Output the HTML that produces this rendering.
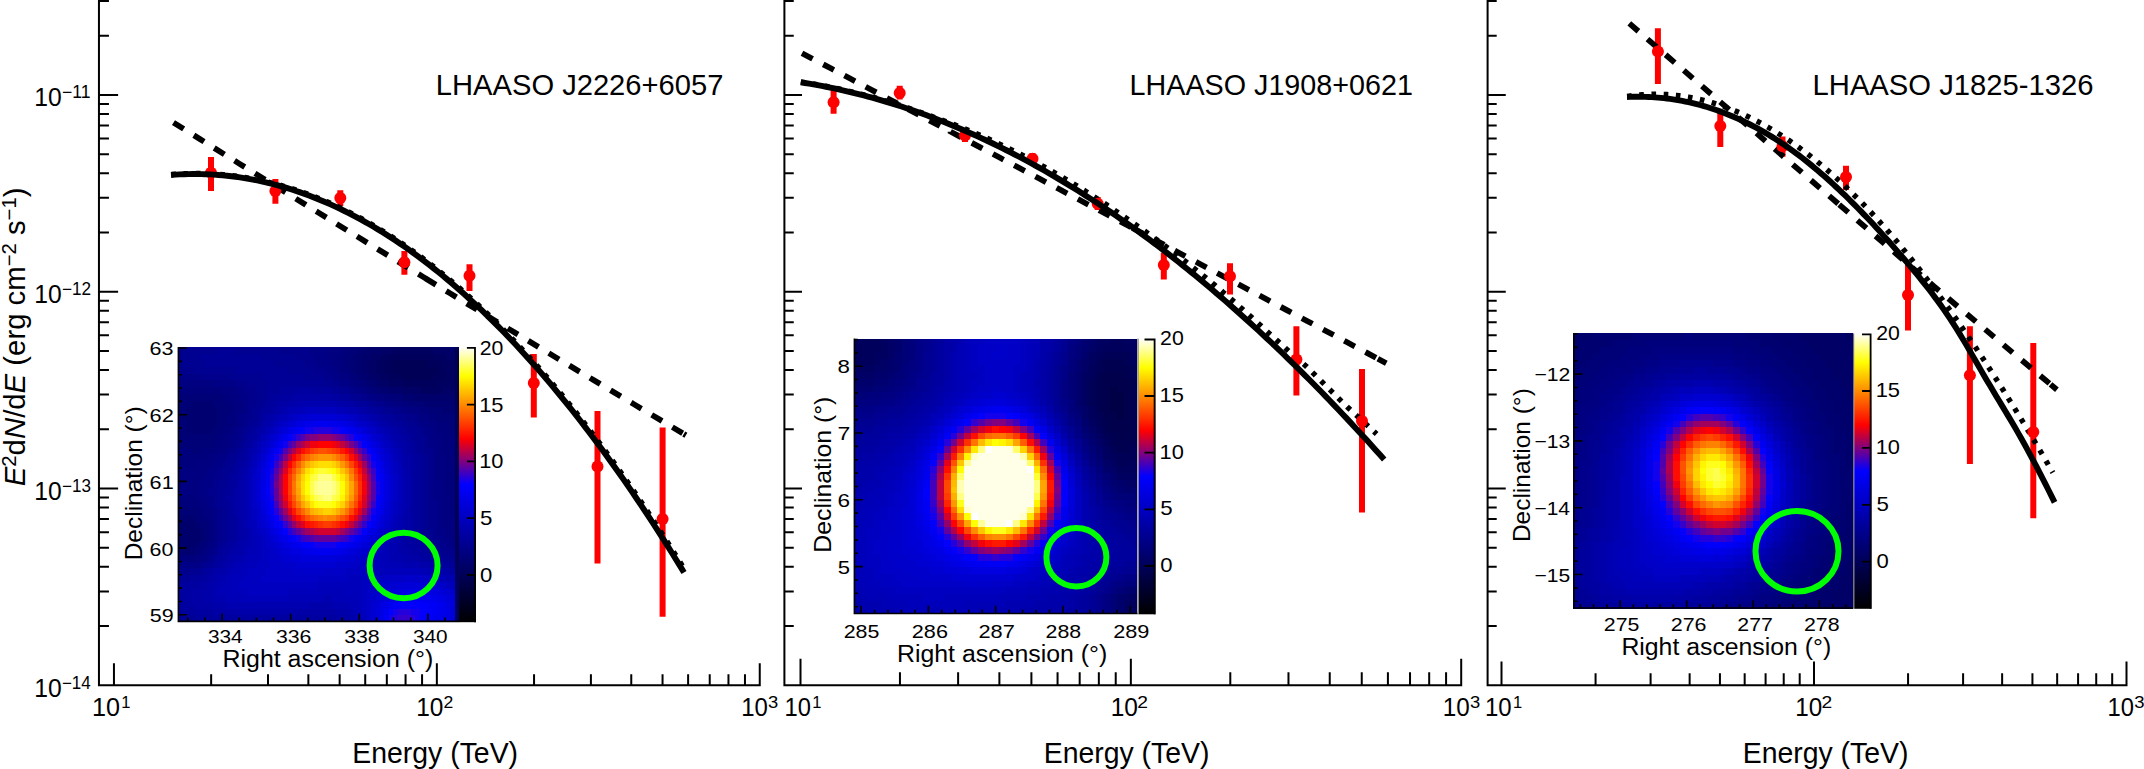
<!DOCTYPE html>
<html><head><meta charset="utf-8"><title>LHAASO spectra</title>
<style>html,body{margin:0;padding:0;background:#fff}svg{display:block}text{font-family:"Liberation Sans", sans-serif;fill:#000}</style>
</head><body>
<svg width="2144" height="769" viewBox="0 0 2144 769">
<defs><linearGradient id="cb" x1="0" y1="1" x2="0" y2="0"><stop offset="0.000" stop-color="#000000"/><stop offset="0.500" stop-color="#0000ff"/><stop offset="0.667" stop-color="#ff0000"/><stop offset="0.895" stop-color="#ffff00"/><stop offset="1.000" stop-color="#ffffff"/></linearGradient></defs>
<rect width="2144" height="769" fill="#fff"/>
<path d="M98.95 0V686.25M97.95 685.25H760.75M113.95 685.25v-22M211.15 685.25v-11M268.01 685.25v-11M308.36 685.25v-11M339.65 685.25v-11M365.22 685.25v-11M386.83 685.25v-11M405.56 685.25v-11M422.07 685.25v-11M436.85 685.25v-22M534.05 685.25v-11M590.91 685.25v-11M631.26 685.25v-11M662.55 685.25v-11M688.12 685.25v-11M709.73 685.25v-11M728.46 685.25v-11M744.97 685.25v-11M759.75 685.25v-22M98.95 626.06h10M98.95 591.4h10M98.95 566.81h10M98.95 547.74h10M98.95 532.16h10M98.95 518.98h10M98.95 507.57h10M98.95 497.51h10M98.95 488.5h19.15M98.95 429.26h10M98.95 394.6h10M98.95 370.01h10M98.95 350.94h10M98.95 335.36h10M98.95 322.18h10M98.95 310.77h10M98.95 300.71h10M98.95 291.7h19.15M98.95 232.46h10M98.95 197.8h10M98.95 173.21h10M98.95 154.14h10M98.95 138.56h10M98.95 125.38h10M98.95 113.97h10M98.95 103.91h10M98.95 94.9h19.15M98.95 35.66h10M98.95 1h10" fill="none" stroke="#000" stroke-width="2"/>
<path d="M784.4 0V686.25M783.4 685.25H1462.2M800.5 685.25v-26.5M899.95 685.25v-12.9M958.12 685.25v-12.9M999.39 685.25v-12.9M1031.4 685.25v-12.9M1057.56 685.25v-12.9M1079.68 685.25v-12.9M1098.84 685.25v-12.9M1115.73 685.25v-12.9M1130.85 685.25v-26.5M1230.3 685.25v-12.9M1288.47 685.25v-12.9M1329.74 685.25v-12.9M1361.75 685.25v-12.9M1387.91 685.25v-12.9M1410.03 685.25v-12.9M1429.19 685.25v-12.9M1446.08 685.25v-12.9M1461.2 685.25v-26.5M784.4 626.06h9.35M784.4 591.4h9.35M784.4 566.81h9.35M784.4 547.74h9.35M784.4 532.16h9.35M784.4 518.98h9.35M784.4 507.57h9.35M784.4 497.51h9.35M784.4 488.5h17.6M784.4 429.26h9.35M784.4 394.6h9.35M784.4 370.01h9.35M784.4 350.94h9.35M784.4 335.36h9.35M784.4 322.18h9.35M784.4 310.77h9.35M784.4 300.71h9.35M784.4 291.7h17.6M784.4 232.46h9.35M784.4 197.8h9.35M784.4 173.21h9.35M784.4 154.14h9.35M784.4 138.56h9.35M784.4 125.38h9.35M784.4 113.97h9.35M784.4 103.91h9.35M784.4 94.9h17.6M784.4 35.66h9.35M784.4 1h9.35" fill="none" stroke="#000" stroke-width="2"/>
<path d="M1487.6 0V686.25M1486.6 685.25H2127.5M1501.5 685.25v-23.7M1595.57 685.25v-12M1650.6 685.25v-12M1689.64 685.25v-12M1719.93 685.25v-12M1744.67 685.25v-12M1765.59 685.25v-12M1783.72 685.25v-12M1799.7 685.25v-12M1814 685.25v-23.7M1908.07 685.25v-12M1963.1 685.25v-12M2002.14 685.25v-12M2032.43 685.25v-12M2057.17 685.25v-12M2078.09 685.25v-12M2096.22 685.25v-12M2112.2 685.25v-12M2126.5 685.25v-23.7M1487.6 626.06h9.1M1487.6 591.4h9.1M1487.6 566.81h9.1M1487.6 547.74h9.1M1487.6 532.16h9.1M1487.6 518.98h9.1M1487.6 507.57h9.1M1487.6 497.51h9.1M1487.6 488.5h18.15M1487.6 429.26h9.1M1487.6 394.6h9.1M1487.6 370.01h9.1M1487.6 350.94h9.1M1487.6 335.36h9.1M1487.6 322.18h9.1M1487.6 310.77h9.1M1487.6 300.71h9.1M1487.6 291.7h18.15M1487.6 232.46h9.1M1487.6 197.8h9.1M1487.6 173.21h9.1M1487.6 154.14h9.1M1487.6 138.56h9.1M1487.6 125.38h9.1M1487.6 113.97h9.1M1487.6 103.91h9.1M1487.6 94.9h18.15M1487.6 35.66h9.1M1487.6 1h9.1" fill="none" stroke="#000" stroke-width="2"/>
<text x="34.35" y="106.1" font-size="25" textLength="27.47" lengthAdjust="spacingAndGlyphs">10</text>
<text x="61.92" y="98.1" font-size="17.5" textLength="28.51" lengthAdjust="spacingAndGlyphs">−11</text>
<text x="34.35" y="302.9" font-size="25" textLength="27.47" lengthAdjust="spacingAndGlyphs">10</text>
<text x="61.94" y="294.9" font-size="17.5" textLength="29.14" lengthAdjust="spacingAndGlyphs">−12</text>
<text x="34.35" y="499.7" font-size="25" textLength="27.47" lengthAdjust="spacingAndGlyphs">10</text>
<text x="61.95" y="491.7" font-size="17.5" textLength="28.96" lengthAdjust="spacingAndGlyphs">−13</text>
<text x="34.35" y="696.5" font-size="25" textLength="27.47" lengthAdjust="spacingAndGlyphs">10</text>
<text x="61.95" y="688.5" font-size="17.5" textLength="28.78" lengthAdjust="spacingAndGlyphs">−14</text>
<text x="91.91" y="715.9" font-size="25" textLength="28.03" lengthAdjust="spacingAndGlyphs">10</text>
<text x="121.16" y="708" font-size="16.5" text-anchor="start">1</text>
<text x="416.16" y="715.9" font-size="25" textLength="27.25" lengthAdjust="spacingAndGlyphs">10</text>
<text x="443.62" y="708" font-size="16.5" textLength="9.78" lengthAdjust="spacingAndGlyphs">2</text>
<text x="741.2" y="715.9" font-size="25" textLength="26.7" lengthAdjust="spacingAndGlyphs">10</text>
<text x="768.01" y="708" font-size="16.5" textLength="10.25" lengthAdjust="spacingAndGlyphs">3</text>
<text x="784.47" y="715.9" font-size="25" textLength="26.42" lengthAdjust="spacingAndGlyphs">10</text>
<text x="812.21" y="708" font-size="16.5" text-anchor="start">1</text>
<text x="1110.66" y="715.9" font-size="25" textLength="27.25" lengthAdjust="spacingAndGlyphs">10</text>
<text x="1137.29" y="708" font-size="16.5" textLength="10.7" lengthAdjust="spacingAndGlyphs">2</text>
<text x="1442.68" y="715.9" font-size="25" textLength="26.97" lengthAdjust="spacingAndGlyphs">10</text>
<text x="1470.01" y="708" font-size="16.5" textLength="10.25" lengthAdjust="spacingAndGlyphs">3</text>
<text x="1484.95" y="715.9" font-size="25" textLength="26.7" lengthAdjust="spacingAndGlyphs">10</text>
<text x="1512.96" y="708" font-size="16.5" text-anchor="start">1</text>
<text x="1795.18" y="715.9" font-size="25" textLength="26.97" lengthAdjust="spacingAndGlyphs">10</text>
<text x="1821.54" y="708" font-size="16.5" textLength="10.7" lengthAdjust="spacingAndGlyphs">2</text>
<text x="2107.47" y="715.9" font-size="25" textLength="26.42" lengthAdjust="spacingAndGlyphs">10</text>
<text x="2134.26" y="708" font-size="16.5" textLength="10.3" lengthAdjust="spacingAndGlyphs">3</text>
<text x="352.33" y="762.5" font-size="28.7" textLength="165.7" lengthAdjust="spacingAndGlyphs">Energy (TeV)</text>
<text x="1043.73" y="762.5" font-size="28.7" textLength="165.7" lengthAdjust="spacingAndGlyphs">Energy (TeV)</text>
<text x="1742.73" y="762.5" font-size="28.7" textLength="165.7" lengthAdjust="spacingAndGlyphs">Energy (TeV)</text>
<text transform="translate(25.3 486.2) rotate(-90) scale(1.012 1)" font-size="29" text-anchor="start"><tspan font-style="italic">E</tspan><tspan font-size="20" dy="-9">2</tspan><tspan dy="9">d</tspan><tspan font-style="italic">N</tspan>/d<tspan font-style="italic">E</tspan> (erg cm<tspan font-size="20" dy="-9">−2</tspan><tspan dy="9"> s</tspan><tspan font-size="20" dy="-9">−1</tspan><tspan dy="9">)</tspan></text>
<text x="435.87" y="94.5" font-size="28.8" textLength="287.49" lengthAdjust="spacingAndGlyphs">LHAASO J2226+6057</text>
<text x="1129.6" y="94.5" font-size="28.8" textLength="283.29" lengthAdjust="spacingAndGlyphs">LHAASO J1908+0621</text>
<text x="1812.56" y="94.5" font-size="28.8" textLength="280.88" lengthAdjust="spacingAndGlyphs">LHAASO J1825-1326</text>
<path d="M211 157.1V190.9M275.4 179.1V203.8M340.3 190.2V206M404.4 251V274.7M469.5 264.2V290.9M533.8 354V417.6M597.5 411V563.5M662.6 427.4V616.7M833.6 90V113.7M899.7 85.8V99.6M965 129V141.9M1032.5 153V164.5M1097.7 197V210M1163.8 252.8V279.6M1230 263.3V294.5M1296.4 326.3V395.6M1362 369V512.5M1657.9 28.3V83.9M1720.3 110.5V146.9M1782.5 136.5V156.7M1846 165.8V190.1M1908 264.4V330.4M1969.9 326.3V463.9M2033.3 343V518.3" stroke="#f00" stroke-width="6" fill="none"/>
<path d="M171.5 174.45L175.82 174.14L180.14 173.89L184.46 173.7L188.78 173.58L193.1 173.51L197.42 173.51L201.74 173.56L206.06 173.68L210.38 173.86L214.7 174.1L219.02 174.4L223.34 174.76L227.66 175.18L231.98 175.66L236.3 176.21L240.62 176.81L244.94 177.48L249.26 178.21L253.58 179L257.9 179.85L262.22 180.76L266.54 181.73L270.86 182.76L275.18 183.86L279.5 185.02L283.82 186.23L288.14 187.51L292.46 188.86L296.78 190.26L301.11 191.72L305.43 193.25L309.75 194.84L314.07 196.48L318.39 198.19L322.71 199.97L327.03 201.8L331.35 203.69L335.67 205.65L339.99 207.67L344.31 209.75L348.63 211.89L352.95 214.1L357.27 216.36L361.59 218.69L365.91 221.08L370.23 223.53L374.55 226.04L378.87 228.62L383.19 231.25L387.51 233.95L391.83 236.71L396.15 239.54L400.47 242.42L404.79 245.37L409.11 248.38L413.43 251.45L417.75 254.58L422.07 257.78L426.39 261.04L430.71 264.36L435.03 267.74L439.35 271.18L443.67 274.69L447.99 278.26L452.31 281.89L456.63 285.59L460.95 289.34L465.27 293.16L469.59 297.04L473.91 300.98L478.23 304.99L482.55 309.06L486.87 313.19L491.19 317.38L495.51 321.64L499.83 325.96L504.15 330.34L508.47 334.79L512.79 339.29L517.11 343.86L521.43 348.49L525.75 353.19L530.07 357.95L534.39 362.77L538.71 367.65L543.03 372.6L547.35 377.61L551.67 382.68L555.99 387.81L560.32 393.01L564.64 398.27L568.96 403.6L573.28 408.99L577.6 414.44L581.92 419.95L586.24 425.53L590.56 431.16L594.88 436.87L599.2 442.63L603.52 448.46L607.84 454.35L612.16 460.31L616.48 466.33L620.8 472.41L625.12 478.56L629.44 484.77L633.76 491.04L638.08 497.37L642.4 503.77L646.72 510.23L651.04 516.76L655.36 523.35L659.68 530L664 536.72L668.32 543.5L672.64 550.34L676.96 557.25L681.28 564.22L685.6 571.26" fill="none" stroke="#000" stroke-width="5.4" stroke-dasharray="4.6 7.6"/>
<path d="M800.8 81.95L804.94 82.59L809.08 83.25L813.23 83.95L817.37 84.68L821.51 85.43L825.65 86.22L829.8 87.03L833.94 87.88L838.08 88.76L842.22 89.66L846.37 90.59L850.51 91.56L854.65 92.55L858.79 93.57L862.94 94.63L867.08 95.71L871.22 96.82L875.36 97.96L879.51 99.13L883.65 100.33L887.79 101.56L891.93 102.82L896.08 104.11L900.22 105.43L904.36 106.77L908.5 108.15L912.65 109.56L916.79 110.99L920.93 112.46L925.07 113.95L929.22 115.47L933.36 116.94L937.5 118.41L941.64 119.91L945.79 121.43L949.93 122.99L954.07 124.58L958.21 126.2L962.36 127.84L966.5 129.52L970.64 131.22L974.78 132.95L978.93 134.71L983.07 136.5L987.21 138.32L991.35 140.19L995.49 142.11L999.64 144.07L1003.78 146.05L1007.92 148.06L1012.06 150.1L1016.21 152.17L1020.35 154.27L1024.49 156.4L1028.63 158.55L1032.78 160.74L1036.92 162.95L1041.06 165.2L1045.2 167.47L1049.35 169.77L1053.49 172.1L1057.63 174.46L1061.77 176.84L1065.92 179.26L1070.06 181.7L1074.2 184.22L1078.34 186.76L1082.49 189.33L1086.63 191.93L1090.77 194.56L1094.91 197.21L1099.06 199.9L1103.2 202.61L1107.34 205.35L1111.48 208.12L1115.63 210.92L1119.77 213.75L1123.91 216.61L1128.05 219.45L1132.2 222.3L1136.34 225.18L1140.48 228.1L1144.62 231.03L1148.77 234L1152.91 237L1157.05 240.02L1161.19 243.07L1165.34 246.16L1169.48 249.27L1173.62 252.4L1177.76 255.57L1181.91 258.76L1186.05 261.99L1190.19 265.24L1194.33 268.52L1198.47 271.82L1202.62 275.16L1206.76 278.52L1210.9 281.93L1215.04 285.4L1219.19 288.91L1223.33 292.44L1227.47 296L1231.61 299.59L1235.76 303.21L1239.9 306.85L1244.04 310.52L1248.18 314.22L1252.33 317.95L1256.47 321.71L1260.61 325.49L1264.75 329.31L1268.9 333.15L1273.04 336.9L1277.18 340.63L1281.32 344.38L1285.47 348.17L1289.61 351.99L1293.75 355.52L1297.89 359.06L1302.04 362.62L1306.18 366.23L1310.32 370.3L1314.46 374.39L1318.61 378.52L1322.75 382.67L1326.89 386.78L1331.03 390.88L1335.18 395.02L1339.32 399.18L1343.46 403.23L1347.6 407.23L1351.75 411.13L1355.89 414.87L1360.03 418.65L1364.17 422.46L1368.32 426.29L1372.46 430.15L1376.6 434.03" fill="none" stroke="#000" stroke-width="5.4" stroke-dasharray="4.6 7.6"/>
<path d="M1627.2 96.43L1630.26 95.98L1633.33 95.58L1636.39 95.23L1639.45 94.94L1642.51 94.69L1645.58 94.5L1648.64 94.35L1651.7 94.26L1654.76 94.22L1657.83 94.23L1660.89 94.29L1663.95 94.4L1667.01 94.56L1670.08 94.76L1673.14 95.02L1676.2 95.33L1679.26 95.69L1682.33 96.1L1685.39 96.56L1688.45 97.07L1691.51 97.63L1694.58 98.23L1697.64 98.89L1700.7 99.59L1703.76 100.34L1706.83 101.15L1709.89 102L1712.95 102.9L1716.02 103.84L1719.08 104.84L1722.14 105.88L1725.2 106.97L1728.27 108.11L1731.33 109.3L1734.39 110.54L1737.45 111.82L1740.52 113.15L1743.58 114.53L1746.64 115.95L1749.7 117.42L1752.77 118.94L1755.83 120.51L1758.89 122.12L1761.95 123.78L1765.02 125.49L1768.08 127.24L1771.14 129.04L1774.2 130.88L1777.27 132.77L1780.33 134.71L1783.39 136.69L1786.45 138.72L1789.52 140.8L1792.58 142.92L1795.64 145.08L1798.71 147.29L1801.77 149.55L1804.83 151.85L1807.89 154.19L1810.96 156.59L1814.02 159.02L1817.08 161.5L1820.14 164.03L1823.21 166.6L1826.27 169.21L1829.33 171.87L1832.39 174.57L1835.46 177.31L1838.52 180.1L1841.58 182.94L1844.64 185.81L1847.71 188.74L1850.77 191.7L1853.83 194.71L1856.89 197.76L1859.96 200.85L1863.02 203.99L1866.08 207.17L1869.14 210.39L1872.21 213.65L1875.27 216.96L1878.33 220.31L1881.39 223.7L1884.46 227.13L1887.52 230.61L1890.58 234.13L1893.65 237.69L1896.71 241.29L1899.77 244.93L1902.83 248.62L1905.9 252.34L1908.96 256.11L1912.02 259.91L1915.08 263.76L1918.15 267.65L1921.21 271.57L1924.27 275.54L1927.33 279.54L1930.4 283.58L1933.46 287.66L1936.52 291.78L1939.58 295.94L1942.65 300.13L1945.71 304.36L1948.77 308.62L1951.83 312.92L1954.9 317.26L1957.96 321.63L1961.02 326.04L1964.08 330.48L1967.15 334.95L1970.21 339.46L1973.27 344L1976.34 348.58L1979.4 353.19L1982.46 357.83L1985.52 362.5L1988.59 367.2L1991.65 371.94L1994.71 376.71L1997.77 381.5L2000.84 386.33L2003.9 391.19L2006.96 396.08L2010.02 400.99L2013.09 405.94L2016.15 410.91L2019.21 415.91L2022.27 420.94L2025.34 426L2028.4 431.09L2031.46 436.2L2034.52 441.34L2037.59 446.5L2040.65 451.69L2043.71 456.91L2046.77 462.15L2049.84 467.41L2052.9 472.7" fill="none" stroke="#000" stroke-width="5.4" stroke-dasharray="4.6 7.6"/>
<path d="M173.5 122.55L183.67 128.91M193.85 135.28L199.78 138.98L204.03 141.63M214.21 147.99L224.39 154.33M234.58 160.68L239.19 163.55L244.77 167.01M254.96 173.35L265.15 179.68M275.35 186L278.61 188.02L285.55 192.32M295.76 198.64L304.88 204.28L305.96 204.95M316.17 211.25L318.02 212.4L326.39 217.55M336.6 223.85L344.3 228.59L346.82 230.14M357.04 236.43L357.44 236.67L367.27 242.71M377.49 248.99L383.72 252.8L387.72 255.26M397.96 261.53L408.19 267.79M418.43 274.05L423.13 276.92L428.67 280.3M425.69 278.48L435.93 284.73M446.18 290.97L449.41 292.94L456.43 297.21M466.68 303.45L475.68 308.92L476.93 309.68M487.19 315.91L488.82 316.89L497.45 322.13M507.72 328.34L515.1 332.81L517.99 334.55M528.26 340.76L538.53 346.96M548.81 353.16L554.52 356.6L559.08 359.35M569.37 365.54L579.65 371.72M589.94 377.9L593.93 380.3L600.23 384.07M610.52 390.24L620.21 396.04L620.82 396.4M631.12 402.56L633.35 403.89L641.42 408.71M651.73 414.86L659.62 419.57L662.03 421.01M672.34 427.15L672.76 427.39L682.66 433.28M683.78 433.94L685.9 435.21M802 53.17L811.9 58.4L812.61 58.77M823.23 64.37L831.71 68.85L833.84 69.97M844.45 75.58L851.52 79.31L855.06 81.18M865.67 86.78L871.32 89.77L876.28 92.39M886.89 97.99L891.13 100.23L897.5 103.6M908.11 109.21L910.94 110.7L918.72 114.82M929.33 120.42L930.74 121.17L939.94 126.03M950.55 131.64L950.55 131.65L960.45 136.89L961.15 137.26M971.76 142.87L980.26 147.37L982.37 148.48M992.97 154.1L1000.07 157.85L1003.58 159.71M1014.18 165.33L1019.87 168.34L1024.79 170.94M1035.39 176.56L1039.68 178.83L1045.99 182.18M1056.6 187.8L1059.49 189.33L1067.2 193.42M1077.8 199.04L1079.29 199.83L1088.4 204.66M1099 210.29L1099.1 210.34L1109.01 215.59L1109.6 215.91M1120.2 221.54L1128.81 226.1L1130.8 227.16M1132.39 228.01L1138.72 231.36L1142.99 233.63M1153.59 239.26L1158.52 241.88L1164.19 244.89M1174.78 250.52L1178.33 252.41L1185.38 256.15M1195.98 261.79L1198.14 262.93L1206.57 267.42M1217.17 273.05L1217.94 273.47L1227.76 278.69M1238.36 284.33L1247.65 289.28L1248.95 289.96M1259.54 295.6L1267.46 299.82L1270.13 301.24M1280.72 306.89L1287.27 310.37L1291.31 312.53M1301.91 318.17L1307.07 320.93L1312.49 323.82M1323.08 329.46L1326.88 331.49L1333.67 335.11M1344.26 340.76L1346.69 342.05L1354.85 346.4M1365.43 352.06L1366.49 352.62L1376.02 357.71M1377.83 358.67L1386.3 363.2M1629.3 23.4L1638.38 31.24M1647.47 39.09L1656.55 46.93M1665.63 54.77L1674.71 62.61M1683.8 70.46L1692.88 78.3M1701.96 86.14L1711.04 93.98M1720.13 101.83L1729.21 109.67M1738.29 117.51L1747.37 125.35M1756.46 133.2L1760.4 136.6L1765.54 141.04M1774.62 148.88L1783.71 156.72M1792.79 164.56L1801.88 172.4M1810.96 180.24L1820.05 188.08M1829.13 195.92L1838.21 203.76M1839.2 204.61L1848.28 212.45M1857.37 220.3L1866.45 228.14M1875.53 235.98L1884.62 243.82M1893.7 251.66L1902.79 259.5M1911.87 267.34L1920.95 275.18M1930.04 283.02L1934.3 286.7L1939.18 290.8M1948.36 298.52L1957.54 306.25M1966.73 313.97L1975.91 321.69M1985.1 329.42L1994.28 337.14M2003.46 344.87L2008.5 349.1L2012.65 352.58M2021.85 360.3L2031.04 368.01M2040.23 375.72L2049.43 383.43M2050.54 384.37L2056.9 389.7" fill="none" stroke="#000" stroke-width="5.7"/>
<circle cx="211" cy="172.7" r="6" fill="#f00"/>
<circle cx="275.4" cy="190.9" r="6" fill="#f00"/>
<circle cx="340.3" cy="198" r="6" fill="#f00"/>
<circle cx="404.4" cy="262.2" r="6" fill="#f00"/>
<circle cx="469.5" cy="275.7" r="6" fill="#f00"/>
<circle cx="533.8" cy="383" r="6" fill="#f00"/>
<circle cx="597.5" cy="466.5" r="6" fill="#f00"/>
<circle cx="662.6" cy="518.9" r="6" fill="#f00"/>
<circle cx="833.6" cy="102.3" r="6" fill="#f00"/>
<circle cx="899.7" cy="92.9" r="6" fill="#f00"/>
<circle cx="965" cy="135.6" r="6" fill="#f00"/>
<circle cx="1032.5" cy="158.8" r="6" fill="#f00"/>
<circle cx="1097.7" cy="203.7" r="6" fill="#f00"/>
<circle cx="1163.8" cy="265.1" r="6" fill="#f00"/>
<circle cx="1230" cy="276.3" r="6" fill="#f00"/>
<circle cx="1296.4" cy="359.5" r="6" fill="#f00"/>
<circle cx="1362" cy="421" r="6" fill="#f00"/>
<circle cx="1657.9" cy="51.4" r="6" fill="#f00"/>
<circle cx="1720.3" cy="126.1" r="6" fill="#f00"/>
<circle cx="1782.5" cy="146.3" r="6" fill="#f00"/>
<circle cx="1846" cy="177.1" r="6" fill="#f00"/>
<circle cx="1908" cy="295" r="6" fill="#f00"/>
<circle cx="1969.9" cy="375.3" r="6" fill="#f00"/>
<circle cx="2033.3" cy="431.9" r="6" fill="#f00"/>
<path d="M171 174.95L175.31 174.64L179.62 174.4L183.93 174.22L188.24 174.1L192.55 174.04L196.87 174.04L201.18 174.1L205.49 174.23L209.8 174.41L214.11 174.65L218.42 174.96L222.73 175.33L227.04 175.76L231.35 176.24L235.66 176.79L239.97 177.41L244.29 178.08L248.6 178.81L252.91 179.61L257.22 180.46L261.53 181.38L265.84 182.36L270.15 183.4L274.46 184.5L278.77 185.66L283.08 186.89L287.39 188.17L291.71 189.52L296.02 190.93L300.33 192.4L304.64 193.93L308.95 195.52L313.26 197.18L317.57 198.89L321.88 200.67L326.19 202.51L330.5 204.41L334.82 206.37L339.13 208.4L343.44 210.49L347.75 212.63L352.06 214.84L356.37 217.11L360.68 219.45L364.99 221.84L369.3 224.3L373.61 226.82L377.92 229.4L382.24 232.04L386.55 234.75L390.86 237.51L395.17 240.34L399.48 243.23L403.79 246.19L408.1 249.2L412.41 252.28L416.72 255.42L421.03 258.62L425.34 261.88L429.66 265.21L433.97 268.6L438.28 272.05L442.59 275.56L446.9 279.14L451.21 282.77L455.52 286.47L459.83 290.24L464.14 294.06L468.45 297.95L472.76 301.9L477.08 305.91L481.39 309.98L485.7 314.12L490.01 318.32L494.32 322.58L498.63 326.91L502.94 331.29L507.25 335.74L511.56 340.26L515.87 344.83L520.18 349.47L524.5 354.17L528.81 358.94L533.12 363.76L537.43 368.65L541.74 373.6L546.05 378.62L550.36 383.7L554.67 388.84L558.98 394.04L563.29 399.31L567.61 404.64L571.92 410.03L576.23 415.49L580.54 421.01L584.85 426.59L589.16 432.24L593.47 437.94L597.78 443.72L602.09 449.55L606.4 455.45L610.71 461.41L615.03 467.43L619.34 473.52L623.65 479.67L627.96 485.89L632.27 492.17L636.58 498.51L640.89 504.91L645.2 511.38L649.51 517.91L653.82 524.51L658.13 531.17L662.45 537.89L666.76 544.68L671.07 551.52L675.38 558.44L679.69 565.41L684 572.46" fill="none" stroke="#000" stroke-width="5.9" stroke-linejoin="round"/>
<path d="M800.8 82.35L805 83.01L809.19 83.7L813.39 84.42L817.59 85.17L821.79 85.95L825.98 86.76L830.18 87.6L834.38 88.48L838.57 89.38L842.77 90.31L846.97 91.28L851.17 92.27L855.36 93.3L859.56 94.35L863.76 95.44L867.95 96.55L872.15 97.7L876.35 98.87L880.55 100.08L884.74 101.32L888.94 102.58L893.14 103.88L897.33 105.21L901.53 106.56L905.73 107.95L909.93 109.37L914.12 110.82L918.32 112.29L922.52 113.8L926.71 115.34L930.91 116.91L935.11 118.51L939.31 120.14L943.5 121.79L947.7 123.48L951.9 125.2L956.09 126.95L960.29 128.73L964.49 130.53L968.68 132.37L972.88 134.24L977.08 136.14L981.28 138.07L985.47 140.02L989.67 142.01L993.87 144.03L998.06 146.07L1002.26 148.15L1006.46 150.26L1010.66 152.39L1014.85 154.56L1019.05 156.75L1023.25 158.98L1027.44 161.23L1031.64 163.52L1035.84 165.83L1040.04 168.18L1044.23 170.55L1048.43 172.95L1052.63 175.38L1056.82 177.85L1061.02 180.34L1065.22 182.86L1069.42 185.41L1073.61 187.99L1077.81 190.6L1082.01 193.24L1086.2 195.91L1090.4 198.61L1094.6 201.33L1098.8 204.09L1102.99 206.88L1107.19 209.69L1111.39 212.54L1115.58 215.41L1119.78 218.31L1123.98 221.25L1128.18 224.21L1132.37 227.2L1136.57 230.22L1140.77 233.27L1144.96 236.35L1149.16 239.46L1153.36 242.59L1157.56 245.76L1161.75 248.95L1165.95 252.18L1170.15 255.43L1174.34 258.71L1178.54 262.03L1182.74 265.37L1186.94 268.74L1191.13 272.14L1195.33 275.56L1199.53 279.02L1203.72 282.51L1207.92 286.02L1212.12 289.56L1216.32 293.14L1220.51 296.74L1224.71 300.37L1228.91 304.03L1233.1 307.72L1237.3 311.43L1241.5 315.18L1245.69 318.95L1249.89 322.76L1254.09 326.59L1258.29 330.45L1262.48 334.34L1266.68 338.26L1270.88 342.2L1275.07 346.18L1279.27 350.18L1283.47 354.22L1287.67 358.28L1291.86 362.37L1296.06 366.49L1300.26 370.63L1304.45 374.81L1308.65 379.01L1312.85 383.25L1317.05 387.51L1321.24 391.8L1325.44 396.12L1329.64 400.46L1333.83 404.84L1338.03 409.24L1342.23 413.67L1346.43 418.13L1350.62 422.62L1354.82 427.14L1359.02 431.68L1363.21 436.26L1367.41 440.86L1371.61 445.49L1375.81 450.15L1380 454.84L1384.2 459.55" fill="none" stroke="#000" stroke-width="5.9" stroke-linejoin="round"/>
<path d="M1627 97.02L1630.08 96.9L1633.15 96.81L1636.23 96.77L1639.31 96.77L1642.38 96.81L1645.46 96.88L1648.53 97L1651.61 97.15L1654.69 97.35L1657.76 97.59L1660.84 97.86L1663.92 98.18L1666.99 98.54L1670.07 98.94L1673.14 99.38L1676.22 99.87L1679.3 100.39L1682.37 100.96L1685.45 101.57L1688.53 102.22L1691.6 102.92L1694.68 103.66L1697.75 104.44L1700.83 105.26L1703.91 106.13L1706.98 107.04L1710.06 107.99L1713.14 108.99L1716.21 110.04L1719.29 111.12L1722.36 112.26L1725.44 113.43L1728.52 114.65L1731.59 115.92L1734.67 117.23L1737.75 118.59L1740.82 120L1743.9 121.45L1746.97 122.95L1750.05 124.49L1753.13 126.08L1756.2 127.72L1759.28 129.4L1762.36 131.13L1765.43 132.91L1768.51 134.73L1771.58 136.61L1774.66 138.53L1777.74 140.5L1780.81 142.52L1783.89 144.59L1786.97 146.7L1790.04 148.87L1793.12 151.08L1796.19 153.35L1799.27 155.66L1802.35 158.02L1805.42 160.43L1808.5 162.88L1811.58 165.38L1814.65 167.93L1817.73 170.52L1820.8 173.15L1823.88 175.83L1826.96 178.55L1830.03 181.31L1833.11 184.12L1836.19 186.96L1839.26 189.85L1842.34 192.77L1845.41 195.74L1848.49 198.75L1851.57 201.79L1854.64 204.87L1857.72 207.99L1860.8 211.14L1863.87 214.33L1866.95 217.56L1870.02 220.81L1873.1 224.11L1876.18 227.44L1879.25 230.8L1882.33 234.19L1885.41 237.61L1888.48 241.07L1891.56 244.55L1894.63 248.07L1897.71 251.61L1900.79 255.18L1903.86 258.78L1906.94 262.41L1910.02 266.07L1913.09 269.75L1916.17 273.46L1919.24 277.22L1922.32 281.02L1925.4 284.88L1928.47 288.8L1931.55 292.79L1934.63 296.85L1937.7 301.01L1940.78 305.26L1943.85 309.6L1946.93 314.06L1950.01 318.63L1953.08 323.33L1956.16 328.16L1959.24 333.12L1962.31 338.19L1965.39 343.35L1968.46 348.59L1971.54 353.88L1974.62 359.2L1977.69 364.53L1980.77 369.86L1983.85 375.17L1986.92 380.42L1990 385.62L1993.07 390.77L1996.15 395.9L1999.23 401.01L2002.3 406.11L2005.38 411.23L2008.46 416.38L2011.53 421.57L2014.61 426.81L2017.68 432.13L2020.76 437.52L2023.84 443.02L2026.91 448.62L2029.99 454.31L2033.07 460.09L2036.14 465.95L2039.22 471.88L2042.29 477.87L2045.37 483.91L2048.45 490.01L2051.52 496.15L2054.6 502.32" fill="none" stroke="#000" stroke-width="5.9" stroke-linejoin="round"/>
<g shape-rendering="crispEdges">
<path fill="#00008c" d="M178 347H186V354H178zM279 347H310V354H279zM178 354H182V360H178zM296 354H314V360H296zM178 360H182V367H178zM305 360H318V367H305zM178 367H195V374H178zM314 367H327V374H314zM200 374H230V380H200zM323 374H332V380H323zM235 380H248V387H235zM332 380H340V387H332zM244 387H257V394H244zM349 387H354V394H349zM248 394H257V401H248zM362 394H367V401H362zM248 401H257V407H248zM376 401H384V407H376zM248 407H252V414H248zM393 407H402V414H393zM244 414H252V421H244zM406 414H415V421H406zM244 421H248V427H244zM415 421H420V427H415zM239 427H244V434H239zM420 427H424V434H420zM239 434H244V441H239zM424 434H428V441H424zM235 441H239V448H235zM424 441H428V448H424zM230 448H235V454H230zM424 448H433V454H424zM226 454H230V461H226zM428 454H433V461H428zM222 461H226V468H222zM428 461H433V468H428zM217 468H222V474H217zM428 468H433V474H428zM213 474H222V481H213zM428 474H433V481H428zM213 481H217V488H213zM428 481H433V488H428zM208 488H217V495H208zM428 488H433V495H428zM213 495H217V501H213zM428 495H433V501H428zM213 501H217V508H213zM428 501H437V508H428zM217 508H222V515H217zM428 508H437V515H428zM217 515H222V521H217zM428 515H437V521H428zM217 521H222V528H217zM428 521H437V528H428zM217 528H222V535H217zM433 528H437V535H433zM217 535H222V542H217zM433 535H442V542H433zM437 542H446V548H437zM213 548H217V555H213zM442 548H455V555H442zM208 555H213V562H208zM200 562H204V568H200zM178 568H191V575H178z"/>
<path fill="#000091" d="M186 347H217V354H186zM235 347H279V354H235zM182 354H200V360H182zM261 354H296V360H261zM182 360H204V367H182zM274 360H305V367H274zM195 367H235V374H195zM288 367H314V374H288zM230 374H261V380H230zM305 374H323V380H305zM248 380H266V387H248zM323 380H332V387H323zM257 387H266V394H257zM340 387H349V394H340zM257 394H266V401H257zM354 394H362V401H354zM257 401H261V407H257zM371 401H376V407H371zM252 407H257V414H252zM384 407H393V414H384zM252 414H257V421H252zM398 414H406V421H398zM248 421H252V427H248zM406 421H415V427H406zM244 427H248V434H244zM415 427H420V434H415zM415 434H424V441H415zM239 441H244V448H239zM420 441H424V448H420zM235 448H239V454H235zM420 448H424V454H420zM230 454H235V461H230zM424 454H428V461H424zM226 461H235V468H226zM424 461H428V468H424zM222 468H230V474H222zM424 468H428V474H424zM222 474H226V481H222zM424 474H428V481H424zM217 481H226V488H217zM424 481H428V488H424zM217 488H222V495H217zM424 488H428V495H424zM217 495H222V501H217zM424 495H428V501H424zM217 501H222V508H217zM424 501H428V508H424zM222 508H226V515H222zM424 508H428V515H424zM222 515H226V521H222zM424 515H428V521H424zM222 521H226V528H222zM424 521H428V528H424zM222 528H226V535H222zM424 528H433V535H424zM222 535H226V542H222zM424 535H433V542H424zM217 542H222V548H217zM428 542H437V548H428zM437 548H442V555H437zM446 555H455V562H446zM204 562H208V568H204zM191 568H200V575H191z"/>
<path fill="#000096" d="M217 347H235V354H217zM200 354H261V360H200zM204 360H274V367H204zM235 367H288V374H235zM261 374H305V380H261zM266 380H323V387H266zM266 387H279V394H266zM332 387H340V394H332zM266 394H270V401H266zM349 394H354V401H349zM261 401H266V407H261zM367 401H371V407H367zM257 407H261V414H257zM380 407H384V414H380zM257 414H261V421H257zM393 414H398V421H393zM252 421H257V427H252zM402 421H406V427H402zM248 427H252V434H248zM406 427H415V434H406zM244 434H248V441H244zM411 434H415V441H411zM415 441H420V448H415zM239 448H244V454H239zM415 448H420V454H415zM235 454H239V461H235zM420 454H424V461H420zM420 461H424V468H420zM230 468H235V474H230zM420 468H424V474H420zM226 474H230V481H226zM420 474H424V481H420zM226 481H230V488H226zM420 481H424V488H420zM222 488H230V495H222zM420 488H424V495H420zM222 495H226V501H222zM420 495H424V501H420zM222 501H230V508H222zM420 501H424V508H420zM226 508H230V515H226zM420 508H424V515H420zM226 515H230V521H226zM420 515H424V521H420zM226 521H230V528H226zM420 521H424V528H420zM226 528H230V535H226zM420 528H424V535H420zM226 535H230V542H226zM420 535H424V542H420zM222 542H226V548H222zM424 542H428V548H424zM217 548H222V555H217zM428 548H437V555H428zM213 555H217V562H213zM437 555H446V562H437zM208 562H213V568H208zM450 562H455V568H450zM200 568H204V575H200zM178 575H191V582H178zM178 615H195V622H178z"/>
<path fill="#000086" d="M310 347H327V354H310zM314 354H327V360H314zM318 360H332V367H318zM327 367H336V374H327zM178 374H200V380H178zM332 374H340V380H332zM213 380H235V387H213zM340 380H349V387H340zM235 387H244V394H235zM354 387H362V394H354zM239 394H248V401H239zM367 394H376V401H367zM244 401H248V407H244zM384 401H393V407H384zM244 407H248V414H244zM402 407H411V414H402zM239 414H244V421H239zM415 414H420V421H415zM239 421H244V427H239zM420 421H428V427H420zM235 427H239V434H235zM424 427H433V434H424zM230 434H239V441H230zM428 434H433V441H428zM230 441H235V448H230zM428 441H437V448H428zM226 448H230V454H226zM433 448H437V454H433zM217 454H226V461H217zM433 454H437V461H433zM213 461H222V468H213zM433 461H437V468H433zM208 468H217V474H208zM433 468H437V474H433zM204 474H213V481H204zM433 474H437V481H433zM200 481H213V488H200zM433 481H442V488H433zM200 488H208V495H200zM433 488H442V495H433zM204 495H213V501H204zM433 495H442V501H433zM208 501H213V508H208zM437 501H442V508H437zM213 508H217V515H213zM437 508H442V515H437zM213 515H217V521H213zM437 515H442V521H437zM213 521H217V528H213zM437 521H442V528H437zM437 528H446V535H437zM213 535H217V542H213zM442 535H450V542H442zM213 542H217V548H213zM446 542H455V548H446zM208 548H213V555H208zM204 555H208V562H204zM178 562H200V568H178z"/>
<path fill="#000081" d="M327 347H340V354H327zM327 354H336V360H327zM332 360H340V367H332zM336 367H340V374H336zM340 374H349V380H340zM178 380H213V387H178zM349 380H354V387H349zM222 387H235V394H222zM362 387H367V394H362zM230 394H239V401H230zM376 394H384V401H376zM235 401H244V407H235zM393 401H402V407H393zM235 407H244V414H235zM411 407H420V414H411zM235 414H239V421H235zM420 414H428V421H420zM235 421H239V427H235zM428 421H437V427H428zM230 427H235V434H230zM433 427H437V434H433zM226 434H230V441H226zM433 434H442V441H433zM222 441H230V448H222zM437 441H442V448H437zM217 448H226V454H217zM437 448H442V454H437zM208 454H217V461H208zM437 454H446V461H437zM195 461H213V468H195zM437 461H446V468H437zM178 468H208V474H178zM437 468H446V474H437zM178 474H204V481H178zM437 474H446V481H437zM178 481H200V488H178zM442 481H446V488H442zM178 488H200V495H178zM442 488H446V495H442zM195 495H204V501H195zM442 495H450V501H442zM200 501H208V508H200zM442 501H450V508H442zM204 508H213V515H204zM442 508H450V515H442zM208 515H213V521H208zM442 515H455V521H442zM442 521H455V528H442zM213 528H217V535H213zM446 528H455V535H446zM450 535H455V542H450zM208 542H213V548H208zM204 548H208V555H204zM195 555H204V562H195z"/>
<path fill="#00007c" d="M340 347H349V354H340zM336 354H345V360H336zM340 360H345V367H340zM340 367H349V374H340zM349 374H354V380H349zM354 380H362V387H354zM178 387H222V394H178zM367 387H371V394H367zM222 394H230V401H222zM384 394H393V401H384zM226 401H235V407H226zM402 401H411V407H402zM230 407H235V414H230zM420 407H428V414H420zM226 414H235V421H226zM428 414H437V421H428zM226 421H235V427H226zM437 421H446V427H437zM222 427H230V434H222zM437 427H450V434H437zM217 434H226V441H217zM442 434H455V441H442zM213 441H222V448H213zM442 441H455V448H442zM178 448H191V454H178zM200 448H217V454H200zM442 448H455V454H442zM178 454H208V461H178zM446 454H455V461H446zM178 461H195V468H178zM446 461H455V468H446zM446 468H455V474H446zM446 474H455V481H446zM446 481H455V488H446zM446 488H455V495H446zM178 495H195V501H178zM450 495H455V501H450zM178 501H182V508H178zM186 501H200V508H186zM450 501H455V508H450zM200 508H204V515H200zM450 508H455V515H450zM204 515H208V521H204zM208 521H213V528H208zM208 528H213V535H208zM208 535H213V542H208zM204 542H208V548H204zM200 548H204V555H200zM178 555H195V562H178z"/>
<path fill="#000077" d="M349 347H358V354H349zM345 354H354V360H345zM345 360H354V367H345zM349 367H354V374H349zM354 374H358V380H354zM362 380H367V387H362zM371 387H380V394H371zM178 394H222V401H178zM393 394H402V401H393zM178 401H191V407H178zM213 401H226V407H213zM411 401H424V407H411zM178 407H186V414H178zM217 407H230V414H217zM428 407H442V414H428zM178 414H182V421H178zM217 414H226V421H217zM437 414H455V421H437zM178 421H186V427H178zM217 421H226V427H217zM446 421H455V427H446zM178 427H186V434H178zM213 427H222V434H213zM450 427H455V434H450zM178 434H217V441H178zM178 441H213V448H178zM191 448H200V454H191zM182 501H186V508H182zM178 508H200V515H178zM195 515H204V521H195zM200 521H208V528H200zM204 528H208V535H204zM204 535H208V542H204zM200 542H204V548H200zM178 548H182V555H178zM195 548H200V555H195z"/>
<path fill="#000071" d="M358 347H367V354H358zM354 354H362V360H354zM354 360H362V367H354zM354 367H362V374H354zM358 374H367V380H358zM367 380H376V387H367zM380 387H389V394H380zM402 394H415V401H402zM191 401H213V407H191zM424 401H455V407H424zM186 407H217V414H186zM442 407H455V414H442zM182 414H217V421H182zM186 421H217V427H186zM186 427H213V434H186zM178 515H195V521H178zM195 521H200V528H195zM200 528H204V535H200zM200 535H204V542H200zM178 542H182V548H178zM195 542H200V548H195zM182 548H195V555H182z"/>
<path fill="#00006c" d="M367 347H380V354H367zM450 347H455V354H450zM362 354H371V360H362zM362 360H367V367H362zM362 367H367V374H362zM367 374H371V380H367zM376 380H380V387H376zM389 387H402V394H389zM415 394H455V401H415zM178 521H195V528H178zM178 528H200V535H178zM178 535H200V542H178zM182 542H195V548H182z"/>
<path fill="#000067" d="M380 347H393V354H380zM433 347H450V354H433zM371 354H380V360H371zM446 354H455V360H446zM367 360H376V367H367zM367 367H376V374H367zM371 374H380V380H371zM380 380H389V387H380zM402 387H420V394H402zM442 387H455V394H442z"/>
<path fill="#000061" d="M393 347H433V354H393zM380 354H389V360H380zM433 354H446V360H433zM376 360H384V367H376zM442 360H455V367H442zM376 367H384V374H376zM446 367H455V374H446zM380 374H389V380H380zM446 374H455V380H446zM389 380H402V387H389zM437 380H455V387H437zM420 387H442V394H420zM455 582H459V589H455zM455 589H459V595H455zM455 595H459V602H455zM455 602H459V609H455zM455 609H459V615H455zM455 615H459V622H455z"/>
<path fill="#000051" d="M455 347H459V354H455zM455 354H459V360H455zM455 360H459V367H455zM455 367H459V374H455zM455 374H459V380H455zM455 380H459V387H455zM455 387H459V394H455zM455 394H459V401H455z"/>
<path fill="#00005c" d="M389 354H433V360H389zM384 360H393V367H384zM428 360H442V367H428zM384 367H393V374H384zM437 367H446V374H437zM389 374H402V380H389zM433 374H446V380H433zM402 380H437V387H402zM455 562H459V568H455zM455 568H459V575H455zM455 575H459V582H455z"/>
<path fill="#000057" d="M393 360H428V367H393zM393 367H437V374H393zM402 374H433V380H402zM455 401H459V407H455zM455 407H459V414H455zM455 414H459V421H455zM455 421H459V427H455zM455 427H459V434H455zM455 434H459V441H455zM455 441H459V448H455zM455 448H459V454H455zM455 454H459V461H455zM455 461H459V468H455zM455 468H459V474H455zM455 474H459V481H455zM455 481H459V488H455zM455 488H459V495H455zM455 495H459V501H455zM455 501H459V508H455zM455 508H459V515H455zM455 515H459V521H455zM455 521H459V528H455zM455 528H459V535H455zM455 535H459V542H455zM455 542H459V548H455zM455 548H459V555H455zM455 555H459V562H455z"/>
<path fill="#00009c" d="M279 387H296V394H279zM314 387H332V394H314zM270 394H279V401H270zM340 394H349V401H340zM266 401H274V407H266zM358 401H367V407H358zM261 407H270V414H261zM371 407H380V414H371zM384 414H393V421H384zM257 421H261V427H257zM393 421H402V427H393zM252 427H257V434H252zM402 427H406V434H402zM248 434H252V441H248zM406 434H411V441H406zM244 441H248V448H244zM411 441H415V448H411zM411 448H415V454H411zM239 454H244V461H239zM415 454H420V461H415zM235 461H239V468H235zM415 461H420V468H415zM235 468H239V474H235zM415 468H420V474H415zM230 474H235V481H230zM415 474H420V481H415zM230 481H235V488H230zM415 481H420V488H415zM230 488H235V495H230zM415 488H420V495H415zM226 495H230V501H226zM415 495H420V501H415zM415 501H420V508H415zM230 508H235V515H230zM415 508H420V515H415zM230 515H235V521H230zM415 515H420V521H415zM230 521H235V528H230zM415 521H420V528H415zM230 528H235V535H230zM415 528H420V535H415zM230 535H235V542H230zM415 535H420V542H415zM226 542H230V548H226zM415 542H424V548H415zM222 548H226V555H222zM420 548H428V555H420zM217 555H222V562H217zM428 555H437V562H428zM213 562H217V568H213zM442 562H450V568H442zM204 568H208V575H204zM191 575H200V582H191zM178 582H186V589H178zM178 609H195V615H178zM195 615H217V622H195z"/>
<path fill="#0000a1" d="M296 387H314V394H296zM279 394H292V401H279zM332 394H340V401H332zM274 401H279V407H274zM354 401H358V407H354zM270 407H274V414H270zM367 407H371V414H367zM261 414H266V421H261zM380 414H384V421H380zM389 421H393V427H389zM398 427H402V434H398zM252 434H257V441H252zM402 434H406V441H402zM248 441H252V448H248zM406 441H411V448H406zM244 448H248V454H244zM406 448H411V454H406zM244 454H248V461H244zM411 454H415V461H411zM239 461H244V468H239zM411 461H415V468H411zM411 468H415V474H411zM235 474H239V481H235zM411 474H415V481H411zM235 481H239V488H235zM411 481H415V488H411zM411 488H415V495H411zM230 495H235V501H230zM411 495H415V501H411zM230 501H235V508H230zM411 501H415V508H411zM411 508H415V515H411zM235 515H239V521H235zM411 515H415V521H411zM235 521H239V528H235zM411 521H415V528H411zM235 528H239V535H235zM406 528H415V535H406zM235 535H239V542H235zM406 535H415V542H406zM230 542H235V548H230zM406 542H415V548H406zM226 548H230V555H226zM411 548H420V555H411zM222 555H226V562H222zM420 555H428V562H420zM217 562H222V568H217zM437 562H442V568H437zM208 568H213V575H208zM450 568H455V575H450zM200 575H208V582H200zM186 582H200V589H186zM178 589H191V595H178zM178 595H191V602H178zM178 602H195V609H178zM195 609H213V615H195zM217 615H336V622H217z"/>
<path fill="#0000a6" d="M292 394H332V401H292zM279 401H288V407H279zM345 401H354V407H345zM274 407H279V414H274zM362 407H367V414H362zM266 414H270V421H266zM376 414H380V421H376zM261 421H266V427H261zM384 421H389V427H384zM257 427H261V434H257zM393 427H398V434H393zM398 434H402V441H398zM402 441H406V448H402zM248 448H252V454H248zM402 448H406V454H402zM406 454H411V461H406zM244 461H248V468H244zM406 461H411V468H406zM239 468H244V474H239zM406 468H411V474H406zM239 474H244V481H239zM235 488H239V495H235zM235 495H239V501H235zM235 501H239V508H235zM235 508H239V515H235zM406 508H411V515H406zM406 515H411V521H406zM239 521H244V528H239zM406 521H411V528H406zM239 528H244V535H239zM402 528H406V535H402zM239 535H244V542H239zM402 535H406V542H402zM235 542H239V548H235zM402 542H406V548H402zM230 548H235V555H230zM402 548H411V555H402zM226 555H230V562H226zM411 555H420V562H411zM222 562H226V568H222zM428 562H437V568H428zM213 568H217V575H213zM446 568H450V575H446zM208 575H213V582H208zM200 582H208V589H200zM191 589H204V595H191zM191 595H204V602H191zM195 602H213V609H195zM213 609H235V615H213zM296 609H336V615H296zM336 615H349V622H336z"/>
<path fill="#0000ab" d="M288 401H296V407H288zM336 401H345V407H336zM279 407H283V414H279zM358 407H362V414H358zM270 414H274V421H270zM371 414H376V421H371zM266 421H270V427H266zM380 421H384V427H380zM261 427H266V434H261zM389 427H393V434H389zM257 434H261V441H257zM393 434H398V441H393zM252 441H257V448H252zM398 441H402V448H398zM248 454H252V461H248zM402 454H406V461H402zM402 461H406V468H402zM244 468H248V474H244zM406 474H411V481H406zM239 481H244V488H239zM406 481H411V488H406zM239 488H244V495H239zM406 488H411V495H406zM239 495H244V501H239zM406 495H411V501H406zM239 501H244V508H239zM406 501H411V508H406zM239 508H244V515H239zM239 515H244V521H239zM402 515H406V521H402zM402 521H406V528H402zM244 528H248V535H244zM398 528H402V535H398zM244 535H248V542H244zM398 535H402V542H398zM239 542H244V548H239zM398 542H402V548H398zM235 548H244V555H235zM398 548H402V555H398zM230 555H235V562H230zM402 555H411V562H402zM226 562H230V568H226zM420 562H428V568H420zM217 568H226V575H217zM437 568H446V575H437zM213 575H217V582H213zM208 582H213V589H208zM204 589H213V595H204zM204 595H213V602H204zM213 602H226V609H213zM310 602H332V609H310zM235 609H296V615H235zM336 609H349V615H336zM349 615H354V622H349z"/>
<path fill="#0000b1" d="M296 401H336V407H296zM283 407H288V414H283zM349 407H358V414H349zM274 414H279V421H274zM367 414H371V421H367zM270 421H274V427H270zM376 421H380V427H376zM384 427H389V434H384zM389 434H393V441H389zM393 441H398V448H393zM252 448H257V454H252zM398 448H402V454H398zM398 454H402V461H398zM248 461H252V468H248zM402 468H406V474H402zM244 474H248V481H244zM402 474H406V481H402zM244 481H248V488H244zM402 481H406V488H402zM244 488H248V495H244zM402 488H406V495H402zM244 495H248V501H244zM402 495H406V501H402zM244 501H248V508H244zM402 501H406V508H402zM244 508H248V515H244zM402 508H406V515H402zM244 515H248V521H244zM398 515H402V521H398zM244 521H248V528H244zM398 521H402V528H398zM248 528H252V535H248zM393 528H398V535H393zM248 535H252V542H248zM393 535H398V542H393zM244 542H252V548H244zM389 542H398V548H389zM244 548H248V555H244zM389 548H398V555H389zM235 555H244V562H235zM389 555H402V562H389zM230 562H235V568H230zM402 562H420V568H402zM226 568H230V575H226zM428 568H437V575H428zM217 575H226V582H217zM446 575H455V582H446zM213 582H222V589H213zM213 589H217V595H213zM213 595H226V602H213zM323 595H332V602H323zM226 602H310V609H226zM332 602H349V609H332zM349 609H354V615H349zM354 615H358V622H354z"/>
<path fill="#0000b6" d="M288 407H296V414H288zM345 407H349V414H345zM279 414H283V421H279zM362 414H367V421H362zM371 421H376V427H371zM266 427H270V434H266zM380 427H384V434H380zM261 434H266V441H261zM257 441H261V448H257zM393 448H398V454H393zM252 454H257V461H252zM398 461H402V468H398zM248 468H252V474H248zM398 468H402V474H398zM248 474H252V481H248zM398 501H402V508H398zM248 508H252V515H248zM398 508H402V515H398zM248 515H252V521H248zM248 521H252V528H248zM393 521H398V528H393zM252 535H257V542H252zM389 535H393V542H389zM252 542H257V548H252zM384 542H389V548H384zM248 548H257V555H248zM384 548H389V555H384zM244 555H252V562H244zM380 555H389V562H380zM235 562H244V568H235zM384 562H402V568H384zM230 568H239V575H230zM420 568H428V575H420zM226 575H230V582H226zM442 575H446V582H442zM222 582H230V589H222zM217 589H230V595H217zM323 589H345V595H323zM226 595H244V602H226zM288 595H323V602H288zM332 595H354V602H332zM349 602H358V609H349zM354 609H358V615H354zM358 615H362V622H358z"/>
<path fill="#0000bb" d="M296 407H305V414H296zM336 407H345V414H336zM283 414H288V421H283zM358 414H362V421H358zM274 421H279V427H274zM270 427H274V434H270zM376 427H380V434H376zM384 434H389V441H384zM389 441H393V448H389zM257 448H261V454H257zM393 454H398V461H393zM252 461H257V468H252zM398 474H402V481H398zM248 481H252V488H248zM398 481H402V488H398zM248 488H252V495H248zM398 488H402V495H398zM248 495H252V501H248zM398 495H402V501H398zM248 501H252V508H248zM393 515H398V521H393zM252 521H257V528H252zM252 528H257V535H252zM389 528H393V535H389zM257 535H261V542H257zM384 535H389V542H384zM257 542H261V548H257zM380 542H384V548H380zM257 548H261V555H257zM376 548H384V555H376zM252 555H261V562H252zM371 555H380V562H371zM244 562H257V568H244zM367 562H384V568H367zM239 568H248V575H239zM367 568H420V575H367zM230 575H244V582H230zM349 575H362V582H349zM437 575H442V582H437zM230 582H239V589H230zM318 582H362V589H318zM450 582H455V589H450zM230 589H248V595H230zM288 589H323V595H288zM345 589H362V595H345zM244 595H288V602H244zM354 595H362V602H354zM358 602H362V609H358zM358 609H362V615H358zM362 615H367V622H362z"/>
<path fill="#0000c1" d="M305 407H336V414H305zM288 414H292V421H288zM354 414H358V421H354zM279 421H283V427H279zM367 421H371V427H367zM266 434H270V441H266zM380 434H384V441H380zM261 441H266V448H261zM384 441H389V448H384zM389 448H393V454H389zM257 454H261V461H257zM393 461H398V468H393zM252 468H257V474H252zM393 468H398V474H393zM393 501H398V508H393zM252 508H257V515H252zM393 508H398V515H393zM252 515H257V521H252zM389 521H393V528H389zM257 528H261V535H257zM384 528H389V535H384zM261 535H266V542H261zM380 535H384V542H380zM261 542H266V548H261zM376 542H380V548H376zM261 548H270V555H261zM371 548H376V555H371zM261 555H270V562H261zM367 555H371V562H367zM257 562H270V568H257zM358 562H367V568H358zM248 568H266V575H248zM345 568H367V575H345zM244 575H261V582H244zM318 575H349V582H318zM362 575H384V582H362zM428 575H437V582H428zM239 582H318V589H239zM362 582H371V589H362zM446 582H450V589H446zM248 589H288V595H248zM362 589H367V595H362zM362 595H367V602H362zM362 602H367V609H362zM362 609H367V615H362z"/>
<path fill="#0000c6" d="M292 414H296V421H292zM349 414H354V421H349zM362 421H367V427H362zM274 427H279V434H274zM371 427H376V434H371zM261 448H266V454H261zM389 454H393V461H389zM252 474H257V481H252zM393 474H398V481H393zM252 481H257V488H252zM393 481H398V488H393zM252 488H257V495H252zM393 488H398V495H393zM252 495H257V501H252zM393 495H398V501H393zM252 501H257V508H252zM389 515H393V521H389zM257 521H261V528H257zM261 528H266V535H261zM266 542H270V548H266zM270 548H274V555H270zM367 548H371V555H367zM270 555H279V562H270zM358 555H367V562H358zM270 562H283V568H270zM349 562H358V568H349zM266 568H292V575H266zM323 568H345V575H323zM261 575H318V582H261zM384 575H406V582H384zM415 575H428V582H415zM371 582H380V589H371zM442 582H446V589H442zM367 589H376V595H367zM367 595H371V602H367zM367 602H371V609H367zM367 609H371V615H367zM367 615H371V622H367z"/>
<path fill="#0000cb" d="M296 414H301V421H296zM345 414H349V421H345zM283 421H288V427H283zM358 421H362V427H358zM367 427H371V434H367zM270 434H274V441H270zM376 434H380V441H376zM266 441H270V448H266zM380 441H384V448H380zM384 448H389V454H384zM257 461H261V468H257zM389 461H393V468H389zM389 468H393V474H389zM389 501H393V508H389zM257 508H261V515H257zM389 508H393V515H389zM257 515H261V521H257zM384 521H389V528H384zM380 528H384V535H380zM266 535H270V542H266zM376 535H380V542H376zM270 542H274V548H270zM371 542H376V548H371zM274 548H279V555H274zM362 548H367V555H362zM279 555H283V562H279zM354 555H358V562H354zM283 562H296V568H283zM336 562H349V568H336zM292 568H323V575H292zM406 575H415V582H406zM380 582H389V589H380zM437 582H442V589H437zM376 589H380V595H376zM450 589H455V595H450zM371 595H376V602H371z"/>
<path fill="#0000d0" d="M301 414H310V421H301zM336 414H345V421H336zM288 421H292V427H288zM354 421H358V427H354zM279 427H283V434H279zM371 434H376V441H371zM261 454H266V461H261zM384 454H389V461H384zM257 468H261V474H257zM257 474H261V481H257zM389 474H393V481H389zM389 481H393V488H389zM389 488H393V495H389zM389 495H393V501H389zM257 501H261V508H257zM384 515H389V521H384zM261 521H266V528H261zM266 528H270V535H266zM270 535H274V542H270zM274 542H279V548H274zM367 542H371V548H367zM279 548H283V555H279zM358 548H362V555H358zM283 555H292V562H283zM345 555H354V562H345zM296 562H336V568H296zM389 582H398V589H389zM428 582H437V589H428zM380 589H384V595H380zM446 589H450V595H446zM376 595H380V602H376zM371 602H376V609H371zM371 609H376V615H371zM371 615H376V622H371z"/>
<path fill="#0000d6" d="M310 414H336V421H310zM292 421H296V427H292zM362 427H367V434H362zM274 434H279V441H274zM270 441H274V448H270zM376 441H380V448H376zM266 448H270V454H266zM380 448H384V454H380zM384 461H389V468H384zM257 481H261V488H257zM257 488H261V495H257zM257 495H261V501H257zM384 508H389V515H384zM261 515H266V521H261zM380 521H384V528H380zM376 528H380V535H376zM371 535H376V542H371zM279 542H283V548H279zM283 548H288V555H283zM354 548H358V555H354zM292 555H301V562H292zM336 555H345V562H336zM398 582H428V589H398zM384 589H393V595H384zM442 589H446V595H442zM380 595H384V602H380zM450 595H455V602H450zM376 602H380V609H376z"/>
<path fill="#0000e0" d="M296 421H301V427H296zM345 421H349V427H345zM358 427H362V434H358zM279 434H283V441H279zM367 434H371V441H367zM371 441H376V448H371zM376 448H380V454H376zM266 454H270V461H266zM261 468H266V474H261zM261 474H266V481H261zM384 474H389V481H384zM384 481H389V488H384zM384 488H389V495H384zM384 495H389V501H384zM261 501H266V508H261zM266 515H270V521H266zM376 521H380V528H376zM371 528H376V535H371zM283 542H288V548H283zM358 542H362V548H358zM292 548H301V555H292zM345 548H349V555H345zM398 589H406V595H398zM428 589H437V595H428zM389 595H393V602H389zM442 595H446V602H442zM380 602H384V609H380zM446 602H450V609H446zM446 615H450V622H446z"/>
<path fill="#0000e6" d="M301 421H305V427H301zM340 421H345V427H340zM288 427H292V434H288zM354 427H358V434H354zM274 441H279V448H274zM270 448H274V454H270zM380 461H384V468H380zM261 481H266V488H261zM261 488H266V495H261zM261 495H266V501H261zM380 508H384V515H380zM270 521H274V528H270zM274 528H279V535H274zM279 535H283V542H279zM362 535H367V542H362zM288 542H292V548H288zM354 542H358V548H354zM301 548H305V555H301zM340 548H345V555H340zM406 589H428V595H406zM393 595H398V602H393zM437 595H442V602H437zM384 602H389V609H384zM380 609H384V615H380zM446 609H450V615H446zM380 615H384V622H380zM442 615H446V622H442z"/>
<path fill="#0000eb" d="M305 421H314V427H305zM332 421H340V427H332zM292 427H296V434H292zM362 434H367V441H362zM376 454H380V461H376zM266 461H270V468H266zM380 468H384V474H380zM380 501H384V508H380zM266 508H270V515H266zM376 515H380V521H376zM367 528H371V535H367zM283 535H288V542H283zM292 542H296V548H292zM305 548H314V555H305zM332 548H340V555H332zM398 595H402V602H398zM433 595H437V602H433zM442 602H446V609H442zM442 609H446V615H442zM437 615H442V622H437z"/>
<path fill="#0000f0" d="M314 421H332V427H314zM349 427H354V434H349zM283 434H288V441H283zM367 441H371V448H367zM371 448H376V454H371zM270 454H274V461H270zM266 468H270V474H266zM380 474H384V481H380zM380 481H384V488H380zM380 488H384V495H380zM380 495H384V501H380zM266 501H270V508H266zM270 515H274V521H270zM371 521H376V528H371zM279 528H283V535H279zM358 535H362V542H358zM296 542H301V548H296zM349 542H354V548H349zM314 548H332V555H314zM402 595H415V602H402zM420 595H433V602H420zM389 602H393V609H389zM437 602H442V609H437zM384 609H389V615H384zM437 609H442V615H437zM433 615H437V622H433z"/>
<path fill="#0000db" d="M349 421H354V427H349zM283 427H288V434H283zM380 454H384V461H380zM261 461H266V468H261zM384 468H389V474H384zM384 501H389V508H384zM261 508H266V515H261zM380 515H384V521H380zM266 521H270V528H266zM270 528H274V535H270zM274 535H279V542H274zM367 535H371V542H367zM362 542H367V548H362zM288 548H292V555H288zM349 548H354V555H349zM301 555H336V562H301zM393 589H398V595H393zM437 589H442V595H437zM384 595H389V602H384zM446 595H450V602H446zM450 602H455V609H450zM376 609H380V615H376zM450 609H455V615H450zM376 615H380V622H376zM450 615H455V622H450z"/>
<path fill="#0000f5" d="M296 427H301V434H296zM345 427H349V434H345zM358 434H362V441H358zM279 441H283V448H279zM274 448H279V454H274zM376 461H380V468H376zM266 474H270V481H266zM266 481H270V488H266zM266 495H270V501H266zM376 508H380V515H376zM274 521H279V528H274zM288 535H292V542H288zM345 542H349V548H345zM415 595H420V602H415zM393 602H398V609H393zM428 602H437V609H428zM433 609H437V615H433zM384 615H389V622H384zM428 615H433V622H428z"/>
<path fill="#0000fb" d="M301 427H305V434H301zM288 434H292V441H288zM362 441H367V448H362zM371 454H376V461H371zM270 461H274V468H270zM376 468H380V474H376zM266 488H270V495H266zM376 501H380V508H376zM270 508H274V515H270zM371 515H376V521H371zM362 528H367V535H362zM354 535H358V542H354zM301 542H310V548H301zM340 542H345V548H340zM398 602H402V609H398zM420 602H428V609H420zM428 609H433V615H428zM424 615H428V622H424z"/>
<path fill="#1300ec" d="M305 427H314V434H305zM332 427H340V434H332zM292 434H296V441H292zM283 441H288V448H283zM279 448H283V454H279zM274 454H279V461H274zM371 461H376V468H371zM270 468H274V474H270zM376 481H380V488H376zM376 488H380V495H376zM270 495H274V501H270zM371 508H376V515H371zM296 535H301V542H296zM349 535H354V542H349zM314 542H336V548H314zM393 609H398V615H393zM411 609H420V615H411zM389 615H393V622H389zM415 615H420V622H415z"/>
<path fill="#2300dc" d="M314 427H332V434H314zM349 434H354V441H349zM358 441H362V448H358zM270 474H274V481H270zM270 481H274V488H270zM270 488H274V495H270zM274 508H279V515H274zM288 528H292V535H288zM358 528H362V535H358zM398 609H411V615H398zM393 615H398V622H393zM411 615H415V622H411z"/>
<path fill="#0300fc" d="M340 427H345V434H340zM354 434H358V441H354zM367 448H371V454H367zM376 474H380V481H376zM376 495H380V501H376zM270 501H274V508H270zM274 515H279V521H274zM279 521H283V528H279zM367 521H371V528H367zM283 528H288V535H283zM292 535H296V542H292zM310 542H314V548H310zM336 542H340V548H336zM402 602H420V609H402zM389 609H393V615H389zM420 609H428V615H420zM420 615H424V622H420z"/>
<path fill="#3300cc" d="M296 434H301V441H296zM362 448H367V454H362zM367 454H371V461H367zM274 461H279V468H274zM371 468H376V474H371zM371 501H376V508H371zM279 515H283V521H279zM367 515H371V521H367zM283 521H288V528H283zM362 521H367V528H362zM301 535H305V542H301zM345 535H349V542H345zM398 615H411V622H398z"/>
<path fill="#5200ad" d="M301 434H305V441H301zM354 441H358V448H354zM283 448H288V454H283zM367 461H371V468H367zM274 468H279V474H274zM371 481H376V488H371zM371 488H376V495H371zM371 495H376V501H371zM367 508H371V515H367zM310 535H314V542H310zM336 535H340V542H336z"/>
<path fill="#72008d" d="M305 434H310V441H305zM336 434H340V441H336zM349 441H354V448H349zM279 461H283V468H279zM367 468H371V474H367zM274 481H279V488H274zM283 515H288V521H283z"/>
<path fill="#82007d" d="M310 434H318V441H310zM332 434H336V441H332zM288 448H292V454H288zM283 454H288V461H283zM367 501H371V508H367zM301 528H305V535H301zM345 528H349V535H345z"/>
<path fill="#92006d" d="M318 434H332V441H318zM296 441H301V448H296zM354 448H358V454H354zM279 468H283V474H279zM367 474H371V481H367zM367 495H371V501H367zM279 501H283V508H279zM292 521H296V528H292zM354 521H358V528H354z"/>
<path fill="#62009d" d="M340 434H345V441H340zM292 441H296V448H292zM358 448H362V454H358zM362 454H367V461H362zM274 474H279V481H274zM274 488H279V495H274zM274 495H279V501H274zM279 508H283V515H279zM362 515H367V521H362zM288 521H292V528H288zM358 521H362V528H358zM296 528H301V535H296zM349 528H354V535H349zM314 535H336V542H314z"/>
<path fill="#4300bc" d="M345 434H349V441H345zM288 441H292V448H288zM279 454H283V461H279zM371 474H376V481H371zM274 501H279V508H274zM292 528H296V535H292zM354 528H358V535H354zM305 535H310V542H305zM340 535H345V542H340z"/>
<path fill="#b1004e" d="M301 441H305V448H301zM292 448H296V454H292zM279 474H283V481H279zM279 481H283V488H279zM279 488H283V495H279zM310 528H314V535H310z"/>
<path fill="#d1002e" d="M305 441H310V448H305zM349 448H354V454H349zM283 501H288V508H283zM362 501H367V508H362zM318 528H336V535H318z"/>
<path fill="#f1000e" d="M310 441H318V448H310zM332 441H336V448H332zM362 481H367V488H362zM362 488H367V495H362zM283 495H288V501H283zM345 521H349V528H345z"/>
<path fill="#ff0100" d="M318 441H332V448H318zM345 448H349V454H345zM292 454H296V461H292zM288 461H292V468H288zM283 474H288V481H283zM283 481H288V488H283zM283 488H288V495H283z"/>
<path fill="#e1001e" d="M336 441H340V448H336zM296 448H301V454H296zM354 454H358V461H354zM358 461H362V468H358zM283 468H288V474H283zM362 474H367V481H362zM362 495H367V501H362zM288 508H292V515H288zM358 508H362V515H358zM292 515H296V521H292zM354 515H358V521H354zM301 521H305V528H301z"/>
<path fill="#c1003e" d="M340 441H345V448H340zM288 454H292V461H288zM283 461H288V468H283zM362 468H367V474H362zM296 521H301V528H296zM349 521H354V528H349zM314 528H318V535H314zM336 528H340V535H336z"/>
<path fill="#a2005d" d="M345 441H349V448H345zM358 454H362V461H358zM362 461H367V468H362zM367 481H371V488H367zM367 488H371V495H367zM279 495H283V501H279zM283 508H288V515H283zM362 508H367V515H362zM288 515H292V521H288zM358 515H362V521H358zM305 528H310V535H305zM340 528H345V535H340z"/>
<path fill="#ff0d00" d="M301 448H305V454H301zM349 454H354V461H349zM358 468H362V474H358zM358 501H362V508H358zM296 515H301V521H296zM349 515H354V521H349zM305 521H310V528H305zM340 521H345V528H340z"/>
<path fill="#ff2400" d="M305 448H310V454H305zM296 454H301V461H296zM288 468H292V474H288zM358 474H362V481H358zM358 495H362V501H358zM314 521H318V528H314zM336 521H340V528H336z"/>
<path fill="#ff3b00" d="M310 448H314V454H310zM332 448H336V454H332zM345 454H349V461H345zM354 468H358V474H354zM288 474H292V481H288zM288 481H292V488H288zM288 488H292V495H288zM345 515H349V521H345zM323 521H332V528H323z"/>
<path fill="#ff4700" d="M314 448H318V454H314zM327 448H332V454H327zM349 461H354V468H349zM292 501H296V508H292zM354 501H358V508H354zM296 508H301V515H296zM349 508H354V515H349z"/>
<path fill="#ff5200" d="M318 448H327V454H318zM301 454H305V461H301zM292 468H296V474H292zM354 474H358V481H354zM305 515H310V521H305zM340 515H345V521H340z"/>
<path fill="#ff3000" d="M336 448H340V454H336zM292 461H296V468H292zM358 481H362V488H358zM358 488H362V495H358zM288 495H292V501H288zM301 515H305V521H301zM318 521H323V528H318zM332 521H336V528H332z"/>
<path fill="#ff1800" d="M340 448H345V454H340zM354 461H358V468H354zM288 501H292V508H288zM292 508H296V515H292zM354 508H358V515H354zM310 521H314V528H310z"/>
<path fill="#ff6a00" d="M305 454H310V461H305zM292 474H296V481H292zM354 481H358V488H354zM354 488H358V495H354zM301 508H305V515H301zM310 515H314V521H310zM336 515H340V521H336z"/>
<path fill="#ff8100" d="M310 454H314V461H310zM296 468H301V474H296zM318 515H323V521H318zM327 515H336V521H327z"/>
<path fill="#ff8c00" d="M314 454H318V461H314zM332 454H336V461H332zM301 461H305V468H301zM349 474H354V481H349zM305 508H310V515H305zM323 515H327V521H323z"/>
<path fill="#ff9800" d="M318 454H332V461H318zM340 461H345V468H340zM296 495H301V501H296zM349 495H354V501H349zM340 508H345V515H340z"/>
<path fill="#ff7500" d="M336 454H340V461H336zM345 461H349V468H345zM349 468H354V474H349zM292 481H296V488H292zM292 488H296V495H292zM296 501H301V508H296zM349 501H354V508H349zM345 508H349V515H345zM314 515H318V521H314z"/>
<path fill="#ff5e00" d="M340 454H345V461H340zM296 461H301V468H296zM292 495H296V501H292zM354 495H358V501H354z"/>
<path fill="#ffaf00" d="M305 461H310V468H305zM301 468H305V474H301zM296 481H301V488H296zM310 508H314V515H310zM336 508H340V515H336z"/>
<path fill="#ffc600" d="M310 461H314V468H310zM340 468H345V474H340zM345 474H349V481H345zM301 495H305V501H301zM345 495H349V501H345zM305 501H310V508H305zM318 508H323V515H318zM332 508H336V515H332z"/>
<path fill="#ffd200" d="M314 461H318V468H314zM332 461H336V468H332zM301 474H305V481H301zM345 481H349V488H345zM345 488H349V495H345zM340 501H345V508H340zM323 508H332V515H323z"/>
<path fill="#ffde00" d="M318 461H332V468H318zM305 468H310V474H305zM301 481H305V488H301zM301 488H305V495H301z"/>
<path fill="#ffbb00" d="M336 461H340V468H336zM314 508H318V515H314z"/>
<path fill="#fff500" d="M310 468H314V474H310zM305 474H310V481H305zM340 495H345V501H340z"/>
<path fill="#ffff1c" d="M314 468H318V474H314zM327 468H332V474H327zM336 474H340V481H336zM310 495H314V501H310zM318 501H332V508H318z"/>
<path fill="#ffff35" d="M318 468H327V474H318zM310 474H314V481H310zM336 495H340V501H336z"/>
<path fill="#ffff03" d="M332 468H336V474H332zM305 481H310V488H305zM340 481H345V488H340zM305 488H310V495H305zM340 488H345V495H340zM314 501H318V508H314zM332 501H336V508H332z"/>
<path fill="#ffe900" d="M336 468H340V474H336zM340 474H345V481H340zM305 495H310V501H305zM310 501H314V508H310zM336 501H340V508H336z"/>
<path fill="#ffa400" d="M345 468H349V474H345zM296 474H301V481H296zM349 481H354V488H349zM296 488H301V495H296zM349 488H354V495H349zM301 501H305V508H301zM345 501H349V508H345z"/>
<path fill="#ffff4f" d="M314 474H318V481H314zM332 474H336V481H332zM310 481H314V488H310zM336 481H340V488H336zM310 488H314V495H310zM336 488H340V495H336zM314 495H318V501H314zM332 495H336V501H332z"/>
<path fill="#ffff81" d="M318 474H332V481H318zM314 481H318V488H314zM332 481H336V488H332zM314 488H318V495H314zM332 488H336V495H332zM323 495H332V501H323z"/>
<path fill="#ffff9a" d="M318 481H332V488H318zM318 488H332V495H318z"/>
<path fill="#ffff68" d="M318 495H323V501H318z"/>
</g>
<rect x="459" y="346.9" width="16.9" height="275.3" fill="url(#cb)"/>
<path d="M178.4 346.9V621.4H459.3M177.6 348h9.3M177.6 361.34h4.4M177.6 374.68h4.4M177.6 388.02h4.4M177.6 401.36h4.4M177.6 414.7h9.3M177.6 428.04h4.4M177.6 441.38h4.4M177.6 454.72h4.4M177.6 468.06h4.4M177.6 481.4h9.3M177.6 494.74h4.4M177.6 508.08h4.4M177.6 521.42h4.4M177.6 534.76h4.4M177.6 548.1h9.3M177.6 561.44h4.4M177.6 574.78h4.4M177.6 588.12h4.4M177.6 601.46h4.4M177.6 614.8h9.3M187.8 622.2v-4.6M204.95 622.2v-4.6M222.1 622.2v-8.6M239.25 622.2v-4.6M256.4 622.2v-4.6M273.55 622.2v-4.6M290.7 622.2v-8.6M307.85 622.2v-4.6M325 622.2v-4.6M342.15 622.2v-4.6M359.3 622.2v-8.6M376.45 622.2v-4.6M393.6 622.2v-4.6M410.75 622.2v-4.6M427.9 622.2v-8.6M445.05 622.2v-4.6" fill="none" stroke="#000" stroke-width="1.6"/>
<path d="M466.9 347.8H475V622.2M475.9 404.6h-9M475.9 461.4h-9M475.9 518.2h-9M475.9 575h-9" fill="none" stroke="#000" stroke-width="1.8"/>
<ellipse cx="403.6" cy="565.5" rx="34" ry="32.7" fill="none" stroke="#0f0" stroke-width="6"/>
<text x="149.62" y="355.4" font-size="19" textLength="23.99" lengthAdjust="spacingAndGlyphs">63</text>
<text x="149.61" y="422.1" font-size="19" textLength="24.23" lengthAdjust="spacingAndGlyphs">62</text>
<text x="149.62" y="488.8" font-size="19" textLength="24.11" lengthAdjust="spacingAndGlyphs">61</text>
<text x="149.63" y="555.5" font-size="19" textLength="23.87" lengthAdjust="spacingAndGlyphs">60</text>
<text x="149.84" y="622.2" font-size="19" textLength="23.87" lengthAdjust="spacingAndGlyphs">59</text>
<text x="207.92" y="643.4" font-size="19" textLength="34.78" lengthAdjust="spacingAndGlyphs">334</text>
<text x="275.9" y="643.4" font-size="19" textLength="35.53" lengthAdjust="spacingAndGlyphs">336</text>
<text x="344.15" y="643.4" font-size="19" textLength="35.53" lengthAdjust="spacingAndGlyphs">338</text>
<text x="412.92" y="643.4" font-size="19" textLength="34.63" lengthAdjust="spacingAndGlyphs">340</text>
<text x="479.74" y="354.9" font-size="19.8" textLength="23.66" lengthAdjust="spacingAndGlyphs">20</text>
<text x="479.16" y="411.5" font-size="19.8" textLength="24.37" lengthAdjust="spacingAndGlyphs">15</text>
<text x="479.17" y="468.3" font-size="19.8" textLength="24.25" lengthAdjust="spacingAndGlyphs">10</text>
<text x="479.91" y="525.1" font-size="19.8" textLength="12.41" lengthAdjust="spacingAndGlyphs">5</text>
<text x="479.92" y="581.9" font-size="19.8" textLength="12.28" lengthAdjust="spacingAndGlyphs">0</text>
<text transform="translate(141.8 558.4) rotate(-90)" x="-1.96" y="0" font-size="24.3" textLength="154.06" lengthAdjust="spacingAndGlyphs">Declination (°)</text>
<text x="222.51" y="667" font-size="23" textLength="210.84" lengthAdjust="spacingAndGlyphs">Right ascension (°)</text>
<g shape-rendering="crispEdges">
<path fill="#00005c" d="M854 339H881V345H854zM1110 339H1124V345H1110zM854 345H881V352H854zM1103 345H1130V352H1103zM854 352H874V359H854zM1096 352H1103V359H1096zM1130 352H1137V359H1130zM854 359H874V365H854zM1130 359H1137V365H1130zM1089 365H1096V372H1089zM1089 372H1096V379H1089zM1089 406H1096V413H1089zM1089 413H1096V419H1089zM1096 426H1103V433H1096zM1103 439H1110V446H1103zM1110 453H1117V460H1110zM1130 460H1137V466H1130zM1117 466H1137V473H1117zM1130 601H1137V608H1130z"/>
<path fill="#000061" d="M881 339H888V345H881zM1096 339H1110V345H1096zM1124 339H1137V345H1124zM881 345H888V352H881zM1096 345H1103V352H1096zM1130 345H1137V352H1130zM874 352H888V359H874zM1089 352H1096V359H1089zM874 359H881V365H874zM1089 359H1096V365H1089zM854 365H874V372H854zM1082 372H1089V379H1082zM1082 379H1089V386H1082zM1082 386H1089V392H1082zM1082 392H1089V399H1082zM1082 399H1089V406H1082zM1089 419H1096V426H1089zM1096 433H1103V439H1096zM1103 446H1110V453H1103zM1103 453H1110V460H1103zM1110 460H1117V466H1110zM1117 473H1137V480H1117zM1130 594H1137V601H1130zM1124 601H1130V608H1124zM1124 608H1137V614H1124z"/>
<path fill="#000067" d="M888 339H895V345H888zM888 345H895V352H888zM1089 345H1096V352H1089zM888 352H895V359H888zM881 359H888V365H881zM1082 359H1089V365H1082zM874 365H888V372H874zM1082 365H1089V372H1082zM854 372H874V379H854zM1082 406H1089V413H1082zM1082 413H1089V419H1082zM1089 426H1096V433H1089zM1096 439H1103V446H1096zM1103 460H1110V466H1103zM1110 466H1117V473H1110zM1124 480H1137V487H1124zM1124 594H1130V601H1124z"/>
<path fill="#00006c" d="M895 339H902V345H895zM1089 339H1096V345H1089zM895 345H902V352H895zM1082 352H1089V359H1082zM888 359H895V365H888zM888 365H895V372H888zM874 372H888V379H874zM1075 372H1082V379H1075zM854 379H874V386H854zM1075 379H1082V386H1075zM1075 386H1082V392H1075zM1075 392H1082V399H1075zM1075 399H1082V406H1075zM1082 419H1089V426H1082zM1089 433H1096V439H1089zM1096 446H1103V453H1096zM1103 466H1110V473H1103zM1110 473H1117V480H1110zM1117 480H1124V487H1117zM1124 487H1130V493H1124zM1130 587H1137V594H1130zM1117 594H1124V601H1117zM1117 601H1124V608H1117zM1117 608H1124V614H1117z"/>
<path fill="#000077" d="M902 339H909V345H902zM902 345H909V352H902zM1075 345H1082V352H1075zM902 352H909V359H902zM1075 352H1082V359H1075zM902 359H909V365H902zM895 372H902V379H895zM1068 372H1075V379H1068zM888 379H895V386H888zM1068 379H1075V386H1068zM874 386H888V392H874zM1068 386H1075V392H1068zM854 392H867V399H854zM1068 392H1075V399H1068zM1075 413H1082V419H1075zM1082 433H1089V439H1082zM1089 446H1096V453H1089zM1096 460H1103V466H1096zM1103 473H1110V480H1103zM1110 487H1117V493H1110zM1117 493H1137V500H1117zM1117 587H1124V594H1117zM1110 594H1117V601H1110zM1110 601H1117V608H1110zM1110 608H1117V614H1110z"/>
<path fill="#00007c" d="M909 339H916V345H909zM1075 339H1082V345H1075zM909 345H916V352H909zM909 352H916V359H909zM1068 359H1075V365H1068zM902 365H909V372H902zM1068 365H1075V372H1068zM902 372H909V379H902zM895 379H902V386H895zM888 386H895V392H888zM867 392H881V399H867zM854 399H861V406H854zM1068 399H1075V406H1068zM1068 406H1075V413H1068zM1075 419H1082V426H1075zM1089 453H1096V460H1089zM1096 466H1103V473H1096zM1103 480H1110V487H1103zM1110 493H1117V500H1110zM1124 500H1137V507H1124zM1124 581H1137V587H1124z"/>
<path fill="#000086" d="M916 339H923V345H916zM1068 339H1075V345H1068zM916 345H923V352H916zM916 352H923V359H916zM916 359H923V365H916zM916 365H923V372H916zM1061 365H1068V372H1061zM909 372H916V379H909zM1061 372H1068V379H1061zM909 379H916V386H909zM902 386H909V392H902zM895 392H902V399H895zM881 399H895V406H881zM1061 399H1068V406H1061zM854 406H874V413H854zM1068 419H1075V426H1068zM1075 433H1082V439H1075zM1082 446H1089V453H1082zM1096 480H1103V487H1096zM1103 493H1110V500H1103zM1110 500H1117V507H1110zM1117 507H1124V513H1117zM1124 513H1137V520H1124zM1124 574H1137V581H1124zM1110 581H1117V587H1110z"/>
<path fill="#00008c" d="M923 339H930V345H923zM923 345H930V352H923zM1061 352H1068V359H1061zM1061 359H1068V365H1061zM916 372H923V379H916zM909 386H916V392H909zM902 392H909V399H902zM895 399H902V406H895zM874 406H888V413H874zM1061 406H1068V413H1061zM854 413H874V419H854zM1082 453H1089V460H1082zM1089 466H1096V473H1089zM1096 487H1103V493H1096zM1103 500H1110V507H1103zM1110 507H1117V513H1110zM1117 513H1124V520H1117zM1130 520H1137V527H1130zM1117 574H1124V581H1117zM1103 587H1110V594H1103zM1096 594H1103V601H1096zM1096 601H1103V608H1096zM1096 608H1103V614H1096z"/>
<path fill="#000096" d="M930 339H937V345H930zM930 345H937V352H930zM930 352H937V359H930zM1054 352H1061V359H1054zM930 359H937V365H930zM1054 359H1061V365H1054zM930 365H937V372H930zM923 379H930V386H923zM923 386H930V392H923zM916 392H923V399H916zM909 399H916V406H909zM902 406H909V413H902zM1054 406H1061V413H1054zM888 413H902V419H888zM874 419H888V426H874zM1061 419H1068V426H1061zM854 426H874V433H854zM854 433H861V439H854zM1068 433H1075V439H1068zM1075 446H1082V453H1075zM1082 460H1089V466H1082zM1089 480H1096V487H1089zM1096 500H1103V507H1096zM1103 513H1110V520H1103zM1110 520H1117V527H1110zM1117 527H1124V534H1117zM1124 534H1137V540H1124zM1130 540H1137V547H1130zM1124 561H1137V567H1124zM1110 567H1124V574H1110zM1103 574H1110V581H1103zM1096 581H1103V587H1096zM1089 594H1096V601H1089zM1089 601H1096V608H1089zM1089 608H1096V614H1089z"/>
<path fill="#00009c" d="M937 339H944V345H937zM1054 339H1061V345H1054zM1054 345H1061V352H1054zM930 372H937V379H930zM1047 372H1054V379H1047zM930 379H937V386H930zM1047 379H1054V386H1047zM1047 386H1054V392H1047zM923 392H930V399H923zM1047 392H1054V399H1047zM916 399H923V406H916zM909 406H916V413H909zM902 413H909V419H902zM888 419H902V426H888zM874 426H888V433H874zM861 433H881V439H861zM854 439H867V446H854zM1082 466H1089V473H1082zM1089 487H1096V493H1089zM1096 507H1103V513H1096zM1096 513H1103V520H1096zM1103 520H1110V527H1103zM1103 527H1117V534H1103zM1110 534H1124V540H1110zM1117 540H1130V547H1117zM1117 547H1137V554H1117zM1117 554H1137V561H1117zM1110 561H1124V567H1110zM1103 567H1110V574H1103zM1096 574H1103V581H1096zM1089 587H1096V594H1089zM1082 594H1089V601H1082zM1082 601H1089V608H1082zM1082 608H1089V614H1082z"/>
<path fill="#0000a6" d="M944 339H951V345H944zM1047 339H1054V345H1047zM944 345H951V352H944zM1047 345H1054V352H1047zM944 352H951V359H944zM944 359H951V365H944zM944 365H951V372H944zM1040 365H1047V372H1040zM944 372H951V379H944zM1040 372H1047V379H1040zM1040 379H1047V386H1040zM937 386H944V392H937zM1040 386H1047V392H1040zM1040 392H1047V399H1040zM930 399H937V406H930zM923 406H930V413H923zM1047 406H1054V413H1047zM916 413H923V419H916zM909 419H916V426H909zM902 426H909V433H902zM888 433H902V439H888zM881 439H895V446H881zM874 446H888V453H874zM861 453H874V460H861zM854 460H867V466H854zM1075 460H1082V466H1075zM854 466H861V473H854zM1082 480H1089V487H1082zM1089 507H1096V513H1089zM1089 513H1096V520H1089zM1096 527H1103V534H1096zM1096 534H1103V540H1096zM1096 540H1103V547H1096zM1096 547H1103V554H1096zM1096 554H1103V561H1096zM1089 561H1103V567H1089zM1089 567H1096V574H1089zM1082 574H1089V581H1082zM1075 581H1089V587H1075zM1075 587H1082V594H1075zM1068 594H1075V601H1068zM1061 601H1075V608H1061zM1047 608H1068V614H1047z"/>
<path fill="#0000ab" d="M951 339H957V345H951zM1040 339H1047V345H1040zM951 345H957V352H951zM1040 345H1047V352H1040zM1040 352H1047V359H1040zM1040 359H1047V365H1040zM944 379H951V386H944zM1034 379H1040V386H1034zM944 386H951V392H944zM937 392H944V399H937zM937 399H944V406H937zM1040 399H1047V406H1040zM930 406H937V413H930zM923 413H930V419H923zM916 419H923V426H916zM1054 419H1061V426H1054zM909 426H916V433H909zM902 433H909V439H902zM1061 433H1068V439H1061zM895 439H902V446H895zM888 446H895V453H888zM1068 446H1075V453H1068zM874 453H888V460H874zM867 460H881V466H867zM861 466H874V473H861zM854 473H874V480H854zM854 480H867V487H854zM854 487H861V493H854zM1082 487H1089V493H1082zM1089 520H1096V527H1089zM1089 527H1096V534H1089zM1089 534H1096V540H1089zM1089 540H1096V547H1089zM1089 547H1096V554H1089zM1082 554H1096V561H1082zM1082 561H1089V567H1082zM1075 567H1089V574H1075zM1068 574H1082V581H1068zM1068 581H1075V587H1068zM1061 587H1075V594H1061zM1047 594H1068V601H1047zM854 601H861V608H854zM1034 601H1061V608H1034zM854 608H867V614H854zM1020 608H1047V614H1020z"/>
<path fill="#0000b1" d="M957 339H964V345H957zM951 352H957V359H951zM951 359H957V365H951zM1034 359H1040V365H1034zM951 365H957V372H951zM1034 365H1040V372H1034zM951 372H957V379H951zM1034 372H1040V379H1034zM951 379H957V386H951zM951 386H957V392H951zM1034 386H1040V392H1034zM944 392H951V399H944zM1034 392H1040V399H1034zM1047 413H1054V419H1047zM923 419H930V426H923zM916 426H923V433H916zM909 433H916V439H909zM902 439H909V446H902zM895 446H902V453H895zM888 453H895V460H888zM881 460H895V466H881zM874 466H888V473H874zM1075 466H1082V473H1075zM874 473H881V480H874zM867 480H881V487H867zM861 487H874V493H861zM854 493H867V500H854zM1082 493H1089V500H1082zM854 500H861V507H854zM1082 500H1089V507H1082zM854 507H861V513H854zM1082 507H1089V513H1082zM1082 513H1089V520H1082zM1082 520H1089V527H1082zM1082 527H1089V534H1082zM1082 534H1089V540H1082zM1082 540H1089V547H1082zM1082 547H1089V554H1082zM1075 554H1082V561H1075zM1075 561H1082V567H1075zM1068 567H1075V574H1068zM1061 574H1068V581H1061zM1054 581H1068V587H1054zM854 587H861V594H854zM1040 587H1061V594H1040zM854 594H867V601H854zM1027 594H1047V601H1027zM861 601H881V608H861zM1006 601H1034V608H1006zM867 608H895V614H867zM978 608H1020V614H978z"/>
<path fill="#0000bb" d="M964 339H971V345H964zM1027 339H1034V345H1027zM964 345H971V352H964zM1027 345H1034V352H1027zM964 352H971V359H964zM1027 352H1034V359H1027zM964 359H971V365H964zM1027 359H1034V365H1027zM964 365H971V372H964zM964 372H978V379H964zM1020 372H1027V379H1020zM964 379H971V386H964zM1020 379H1027V386H1020zM964 386H971V392H964zM1020 386H1027V392H1020zM957 392H964V399H957zM1027 392H1034V399H1027zM951 399H957V406H951zM944 406H951V413H944zM937 413H944V419H937zM930 419H937V426H930zM1047 419H1054V426H1047zM923 426H930V433H923zM916 433H923V439H916zM909 446H916V453H909zM902 453H909V460H902zM902 460H909V466H902zM895 466H902V473H895zM895 473H902V480H895zM888 480H895V487H888zM1075 480H1082V487H1075zM881 487H895V493H881zM881 493H888V500H881zM874 500H888V507H874zM867 507H881V513H867zM867 513H874V520H867zM861 520H874V527H861zM861 527H867V534H861zM1075 527H1082V534H1075zM854 534H867V540H854zM1075 534H1082V540H1075zM854 540H867V547H854zM854 547H867V554H854zM1068 547H1075V554H1068zM854 554H867V561H854zM1061 554H1068V561H1061zM854 561H867V567H854zM861 567H874V574H861zM1047 567H1061V574H1047zM861 574H874V581H861zM1040 574H1047V581H1040zM867 581H881V587H867zM1027 581H1040V587H1027zM874 587H895V594H874zM1006 587H1027V594H1006zM888 594H923V601H888zM944 594H999V601H944zM909 601H964V608H909z"/>
<path fill="#0000c1" d="M971 339H985V345H971zM1020 339H1027V345H1020zM971 345H978V352H971zM1020 345H1027V352H1020zM971 352H978V359H971zM1020 352H1027V359H1020zM971 359H978V365H971zM1020 359H1027V365H1020zM971 365H985V372H971zM1013 365H1027V372H1013zM978 372H985V379H978zM1013 372H1020V379H1013zM971 379H985V386H971zM1013 379H1020V386H1013zM971 386H978V392H971zM1013 386H1020V392H1013zM964 392H971V399H964zM1020 392H1027V399H1020zM957 399H964V406H957zM1027 399H1034V406H1027zM1034 406H1040V413H1034zM1040 413H1047V419H1040zM923 433H930V439H923zM916 439H923V446H916zM909 453H916V460H909zM1068 460H1075V466H1068zM902 466H909V473H902zM895 480H902V487H895zM895 487H902V493H895zM1075 487H1082V493H1075zM888 493H895V500H888zM1075 493H1082V500H1075zM888 500H895V507H888zM1075 500H1082V507H1075zM881 507H888V513H881zM1075 507H1082V513H1075zM874 513H888V520H874zM1075 513H1082V520H1075zM874 520H881V527H874zM1075 520H1082V527H1075zM867 527H881V534H867zM867 534H881V540H867zM867 540H874V547H867zM1068 540H1075V547H1068zM867 547H874V554H867zM1061 547H1068V554H1061zM867 554H881V561H867zM867 561H881V567H867zM1054 561H1061V567H1054zM874 567H881V574H874zM1040 567H1047V574H1040zM874 574H895V581H874zM1034 574H1040V581H1034zM881 581H902V587H881zM1013 581H1027V587H1013zM895 587H1006V594H895zM923 594H944V601H923z"/>
<path fill="#0000c6" d="M985 339H1020V345H985zM978 345H999V352H978zM1006 345H1020V352H1006zM978 352H992V359H978zM1006 352H1020V359H1006zM978 359H1020V365H978zM985 365H1013V372H985zM985 372H1013V379H985zM985 379H1013V386H985zM978 386H992V392H978zM999 386H1013V392H999zM971 392H978V399H971zM1013 392H1020V399H1013zM951 406H957V413H951zM944 413H951V419H944zM937 419H944V426H937zM930 426H937V433H930zM1054 433H1061V439H1054zM916 446H923V453H916zM1061 446H1068V453H1061zM909 460H916V466H909zM902 473H909V480H902zM902 480H909V487H902zM895 493H902V500H895zM895 500H902V507H895zM888 507H902V513H888zM888 513H895V520H888zM881 520H895V527H881zM881 527H895V534H881zM881 534H888V540H881zM1068 534H1075V540H1068zM874 540H888V547H874zM874 547H888V554H874zM881 554H888V561H881zM1054 554H1061V561H1054zM881 561H895V567H881zM1047 561H1054V567H1047zM881 567H902V574H881zM1034 567H1040V574H1034zM895 574H916V581H895zM1020 574H1034V581H1020zM902 581H964V587H902zM992 581H1013V587H992z"/>
<path fill="#0000b6" d="M1034 339H1040V345H1034zM957 345H964V352H957zM1034 345H1040V352H1034zM957 352H964V359H957zM1034 352H1040V359H1034zM957 359H964V365H957zM957 365H964V372H957zM1027 365H1034V372H1027zM957 372H964V379H957zM1027 372H1034V379H1027zM957 379H964V386H957zM1027 379H1034V386H1027zM957 386H964V392H957zM1027 386H1034V392H1027zM951 392H957V399H951zM944 399H951V406H944zM1034 399H1040V406H1034zM937 406H944V413H937zM1040 406H1047V413H1040zM930 413H937V419H930zM1054 426H1061V433H1054zM909 439H916V446H909zM1061 439H1068V446H1061zM902 446H909V453H902zM895 453H902V460H895zM1068 453H1075V460H1068zM895 460H902V466H895zM888 466H895V473H888zM881 473H895V480H881zM1075 473H1082V480H1075zM881 480H888V487H881zM874 487H881V493H874zM867 493H881V500H867zM861 500H874V507H861zM861 507H867V513H861zM854 513H867V520H854zM854 520H861V527H854zM854 527H861V534H854zM1075 540H1082V547H1075zM1075 547H1082V554H1075zM1068 554H1075V561H1068zM1061 561H1075V567H1061zM854 567H861V574H854zM1061 567H1068V574H1061zM854 574H861V581H854zM1047 574H1061V581H1047zM854 581H867V587H854zM1040 581H1054V587H1040zM861 587H874V594H861zM1027 587H1040V594H1027zM867 594H888V601H867zM999 594H1027V601H999zM881 601H909V608H881zM964 601H1006V608H964zM895 608H978V614H895z"/>
<path fill="#000091" d="M1061 339H1068V345H1061zM1061 345H1068V352H1061zM923 352H930V359H923zM923 359H930V365H923zM923 365H930V372H923zM1054 365H1061V372H1054zM923 372H930V379H923zM1054 372H1061V379H1054zM916 379H923V386H916zM1054 379H1061V386H1054zM916 386H923V392H916zM1054 386H1061V392H1054zM909 392H916V399H909zM1054 392H1061V399H1054zM902 399H909V406H902zM1054 399H1061V406H1054zM888 406H902V413H888zM874 413H888V419H874zM1061 413H1068V419H1061zM854 419H874V426H854zM1068 426H1075V433H1068zM1075 439H1082V446H1075zM1089 473H1096V480H1089zM1096 493H1103V500H1096zM1103 507H1110V513H1103zM1110 513H1117V520H1110zM1117 520H1130V527H1117zM1124 527H1137V534H1124zM1124 567H1137V574H1124zM1110 574H1117V581H1110zM1103 581H1110V587H1103zM1096 587H1103V594H1096z"/>
<path fill="#000071" d="M1082 339H1089V345H1082zM1082 345H1089V352H1082zM895 352H902V359H895zM895 359H902V365H895zM1075 359H1082V365H1075zM895 365H902V372H895zM1075 365H1082V372H1075zM888 372H895V379H888zM874 379H888V386H874zM854 386H874V392H854zM1075 406H1082V413H1075zM1082 426H1089V433H1082zM1089 439H1096V446H1089zM1096 453H1103V460H1096zM1110 480H1117V487H1110zM1117 487H1124V493H1117zM1130 487H1137V493H1130zM1124 587H1130V594H1124z"/>
<path fill="#0000a1" d="M937 345H944V352H937zM937 352H944V359H937zM1047 352H1054V359H1047zM937 359H944V365H937zM1047 359H1054V365H1047zM937 365H944V372H937zM1047 365H1054V372H1047zM937 372H944V379H937zM937 379H944V386H937zM930 386H937V392H930zM930 392H937V399H930zM923 399H930V406H923zM1047 399H1054V406H1047zM916 406H923V413H916zM909 413H916V419H909zM1054 413H1061V419H1054zM902 419H909V426H902zM888 426H902V433H888zM1061 426H1068V433H1061zM881 433H888V439H881zM867 439H881V446H867zM1068 439H1075V446H1068zM854 446H874V453H854zM854 453H861V460H854zM1075 453H1082V460H1075zM1082 473H1089V480H1082zM1089 493H1096V500H1089zM1089 500H1096V507H1089zM1096 520H1103V527H1096zM1103 534H1110V540H1103zM1103 540H1117V547H1103zM1103 547H1117V554H1103zM1103 554H1117V561H1103zM1103 561H1110V567H1103zM1096 567H1103V574H1096zM1089 574H1096V581H1089zM1089 581H1096V587H1089zM1082 587H1089V594H1082zM1075 594H1082V601H1075zM1075 601H1082V608H1075zM1068 608H1082V614H1068z"/>
<path fill="#0000cb" d="M999 345H1006V352H999zM992 352H1006V359H992zM992 386H999V392H992zM978 392H992V399H978zM1006 392H1013V399H1006zM964 399H971V406H964zM1020 399H1027V406H1020zM1027 406H1034V413H1027zM1047 426H1054V433H1047zM923 439H930V446H923zM916 453H923V460H916zM909 466H916V473H909zM1068 466H1075V473H1068zM902 487H909V493H902zM902 493H909V500H902zM902 500H909V507H902zM895 513H902V520H895zM895 520H902V527H895zM895 527H902V534H895zM1068 527H1075V534H1068zM888 534H902V540H888zM888 540H902V547H888zM1061 540H1068V547H1061zM888 547H902V554H888zM1054 547H1061V554H1054zM888 554H909V561H888zM1047 554H1054V561H1047zM895 561H916V567H895zM1040 561H1047V567H1040zM902 567H930V574H902zM1027 567H1034V574H1027zM916 574H951V581H916zM1013 574H1020V581H1013zM964 581H992V587H964z"/>
<path fill="#000081" d="M1068 345H1075V352H1068zM1068 352H1075V359H1068zM909 359H916V365H909zM909 365H916V372H909zM902 379H909V386H902zM1061 379H1068V386H1061zM895 386H902V392H895zM1061 386H1068V392H1061zM881 392H895V399H881zM1061 392H1068V399H1061zM861 399H881V406H861zM1068 413H1075V419H1068zM1075 426H1082V433H1075zM1082 439H1089V446H1082zM1089 460H1096V466H1089zM1096 473H1103V480H1096zM1103 487H1110V493H1103zM1117 500H1124V507H1117zM1124 507H1137V513H1124zM1117 581H1124V587H1117zM1110 587H1117V594H1110zM1103 594H1110V601H1103zM1103 601H1110V608H1103zM1103 608H1110V614H1103z"/>
<path fill="#000057" d="M1103 352H1130V359H1103zM1096 359H1103V365H1096zM1124 359H1130V365H1124zM1096 365H1103V372H1096zM1130 365H1137V372H1130zM1130 372H1137V379H1130zM1089 379H1096V386H1089zM1089 386H1096V392H1089zM1089 392H1096V399H1089zM1089 399H1096V406H1089zM1096 413H1103V419H1096zM1096 419H1103V426H1096zM1103 433H1110V439H1103zM1110 446H1117V453H1110zM1130 446H1137V453H1130zM1117 453H1137V460H1117zM1117 460H1130V466H1117z"/>
<path fill="#000051" d="M1103 359H1124V365H1103zM1103 365H1130V372H1103zM1096 372H1103V379H1096zM1124 372H1130V379H1124zM1096 379H1103V386H1096zM1130 379H1137V386H1130zM1096 386H1103V392H1096zM1130 386H1137V392H1130zM1096 392H1103V399H1096zM1130 392H1137V399H1130zM1096 399H1103V406H1096zM1130 399H1137V406H1130zM1096 406H1103V413H1096zM1130 406H1137V413H1130zM1130 413H1137V419H1130zM1103 419H1110V426H1103zM1130 419H1137V426H1130zM1103 426H1110V433H1103zM1130 426H1137V433H1130zM1110 433H1117V439H1110zM1130 433H1137V439H1130zM1110 439H1137V446H1110zM1117 446H1130V453H1117z"/>
<path fill="#00004c" d="M1103 372H1124V379H1103zM1103 379H1130V386H1103zM1103 386H1110V392H1103zM1117 386H1130V392H1117zM1103 392H1110V399H1103zM1124 392H1130V399H1124zM1103 399H1110V406H1103zM1124 399H1130V406H1124zM1103 406H1110V413H1103zM1124 406H1130V413H1124zM1103 413H1117V419H1103zM1124 413H1130V419H1124zM1110 419H1130V426H1110zM1110 426H1130V433H1110zM1117 433H1130V439H1117z"/>
<path fill="#000047" d="M1110 386H1117V392H1110zM1110 392H1124V399H1110zM1110 399H1124V406H1110zM1110 406H1124V413H1110zM1117 413H1124V419H1117z"/>
<path fill="#0000d0" d="M992 392H1006V399H992zM971 399H978V406H971zM1013 399H1020V406H1013zM957 406H964V413H957zM951 413H957V419H951zM1034 413H1040V419H1034zM1040 419H1047V426H1040zM930 433H937V439H930zM1054 439H1061V446H1054zM909 473H916V480H909zM1068 473H1075V480H1068zM909 480H916V487H909zM902 507H909V513H902zM902 513H909V520H902zM902 520H909V527H902zM1068 520H1075V527H1068zM902 527H909V534H902zM902 534H909V540H902zM1061 534H1068V540H1061zM902 540H909V547H902zM902 547H916V554H902zM909 554H923V561H909zM916 561H930V567H916zM1034 561H1040V567H1034zM930 567H944V574H930zM951 574H1013V581H951z"/>
<path fill="#0000d6" d="M978 399H985V406H978zM1006 399H1013V406H1006zM964 406H971V413H964zM944 419H951V426H944zM937 426H944V433H937zM923 446H930V453H923zM1061 453H1068V460H1061zM916 460H923V466H916zM1068 480H1075V487H1068zM909 487H916V493H909zM909 493H916V500H909zM909 500H916V507H909zM909 507H916V513H909zM1068 507H1075V513H1068zM909 513H916V520H909zM1068 513H1075V520H1068zM909 520H916V527H909zM909 527H916V534H909zM909 534H916V540H909zM909 540H923V547H909zM1054 540H1061V547H1054zM916 547H923V554H916zM923 554H930V561H923zM1040 554H1047V561H1040zM930 561H944V567H930zM944 567H957V574H944zM1020 567H1027V574H1020z"/>
<path fill="#0000db" d="M985 399H1006V406H985zM1020 406H1027V413H1020zM957 413H964V419H957zM1047 433H1054V439H1047zM930 439H937V446H930zM923 453H930V460H923zM916 466H923V473H916zM916 473H923V480H916zM1068 487H1075V493H1068zM1068 493H1075V500H1068zM1068 500H1075V507H1068zM916 527H923V534H916zM1061 527H1068V534H1061zM916 534H923V540H916zM923 547H930V554H923zM1047 547H1054V554H1047zM930 554H937V561H930zM944 561H951V567H944zM1027 561H1034V567H1027zM957 567H971V574H957zM1006 567H1020V574H1006z"/>
<path fill="#0000e0" d="M971 406H978V413H971zM1013 406H1020V413H1013zM1027 413H1034V419H1027zM951 419H957V426H951zM1034 419H1040V426H1034zM937 433H944V439H937zM1061 460H1068V466H1061zM916 480H923V487H916zM916 487H923V493H916zM916 513H923V520H916zM916 520H923V527H916zM1061 520H1068V527H1061zM923 534H930V540H923zM1054 534H1061V540H1054zM923 540H930V547H923zM930 547H937V554H930zM937 554H944V561H937zM1034 554H1040V561H1034zM951 561H957V567H951zM1020 561H1027V567H1020zM971 567H1006V574H971z"/>
<path fill="#0000e6" d="M978 406H985V413H978zM944 426H951V433H944zM1040 426H1047V433H1040zM930 446H937V453H930zM1054 446H1061V453H1054zM923 460H930V466H923zM916 493H923V500H916zM916 500H923V507H916zM916 507H923V513H916zM923 527H930V534H923zM930 540H937V547H930zM1047 540H1054V547H1047zM937 547H944V554H937zM1040 547H1047V554H1040zM944 554H951V561H944zM957 561H964V567H957z"/>
<path fill="#0000eb" d="M985 406H992V413H985zM1006 406H1013V413H1006zM964 413H971V419H964zM1020 413H1027V419H1020zM923 466H930V473H923zM1061 466H1068V473H1061zM1061 513H1068V520H1061zM923 520H930V527H923zM930 534H937V540H930zM951 554H957V561H951zM1027 554H1034V561H1027zM964 561H971V567H964zM1013 561H1020V567H1013z"/>
<path fill="#0000f0" d="M992 406H1006V413H992zM957 419H964V426H957zM937 439H944V446H937zM1047 439H1054V446H1047zM923 473H930V480H923zM1061 507H1068V513H1061zM923 513H930V520H923zM1054 527H1061V534H1054zM937 540H944V547H937zM944 547H951V554H944zM957 554H964V561H957zM971 561H985V567H971zM1006 561H1013V567H1006z"/>
<path fill="#0000f5" d="M971 413H978V419H971zM1027 419H1034V426H1027zM951 426H957V433H951zM944 433H951V439H944zM930 453H937V460H930zM1054 453H1061V460H1054zM1061 473H1068V480H1061zM923 480H930V487H923zM923 500H930V507H923zM923 507H930V513H923zM930 527H937V534H930zM1047 534H1054V540H1047zM1034 547H1040V554H1034zM1020 554H1027V561H1020zM985 561H1006V567H985z"/>
<path fill="#0300fc" d="M978 413H985V419H978zM1006 413H1013V419H1006zM964 419H971V426H964zM937 446H944V453H937zM930 460H937V466H930zM944 540H951V547H944zM971 554H978V561H971zM1013 554H1020V561H1013z"/>
<path fill="#1300ec" d="M985 413H1006V419H985zM1020 419H1027V426H1020zM1054 460H1061V466H1054zM930 513H937V520H930zM937 527H944V534H937zM1047 527H1054V534H1047zM957 547H964V554H957zM1027 547H1034V554H1027z"/>
<path fill="#0000fb" d="M1013 413H1020V419H1013zM1034 426H1040V433H1034zM1040 433H1047V439H1040zM1061 480H1068V487H1061zM923 487H930V493H923zM1061 487H1068V493H1061zM923 493H930V500H923zM1061 493H1068V500H1061zM1061 500H1068V507H1061zM930 520H937V527H930zM1054 520H1061V527H1054zM937 534H944V540H937zM1040 540H1047V547H1040zM951 547H957V554H951zM964 554H971V561H964z"/>
<path fill="#3300cc" d="M971 419H978V426H971zM937 453H944V460H937zM930 473H937V480H930zM930 500H937V507H930zM1040 534H1047V540H1040zM964 547H971V554H964zM1020 547H1027V554H1020zM992 554H999V561H992z"/>
<path fill="#5200ad" d="M978 419H985V426H978zM1047 520H1054V527H1047zM957 540H964V547H957z"/>
<path fill="#72008d" d="M985 419H992V426H985zM957 433H964V439H957zM951 439H957V446H951zM1054 480H1061V487H1054zM1054 493H1061V500H1054zM1040 527H1047V534H1040zM1034 534H1040V540H1034z"/>
<path fill="#82007d" d="M992 419H1006V426H992zM1020 426H1027V433H1020zM1054 487H1061V493H1054zM937 507H944V513H937zM978 547H985V554H978zM1006 547H1013V554H1006z"/>
<path fill="#62009d" d="M1006 419H1013V426H1006zM964 426H971V433H964zM944 446H951V453H944zM1047 453H1054V460H1047zM937 460H944V466H937zM1054 473H1061V480H1054zM1054 500H1061V507H1054zM937 513H944V520H937zM944 527H951V534H944zM951 534H957V540H951zM1027 540H1034V547H1027zM971 547H978V554H971zM1013 547H1020V554H1013z"/>
<path fill="#4300bc" d="M1013 419H1020V426H1013zM1027 426H1034V433H1027zM1034 433H1040V439H1034zM1040 439H1047V446H1040zM1054 466H1061V473H1054zM930 480H937V487H930zM930 487H937V493H930zM930 493H937V500H930zM1054 507H1061V513H1054zM937 520H944V527H937z"/>
<path fill="#2300dc" d="M957 426H964V433H957zM951 433H957V439H951zM944 439H951V446H944zM1047 446H1054V453H1047zM930 466H937V473H930zM930 507H937V513H930zM1054 513H1061V520H1054zM944 534H951V540H944zM951 540H957V547H951zM1034 540H1040V547H1034zM978 554H992V561H978zM999 554H1013V561H999z"/>
<path fill="#a2005d" d="M971 426H978V433H971zM1027 433H1034V439H1027zM1040 446H1047V453H1040zM944 453H951V460H944zM1047 460H1054V466H1047zM937 500H944V507H937zM957 534H964V540H957zM1020 540H1027V547H1020zM992 547H999V554H992z"/>
<path fill="#d1002e" d="M978 426H985V433H978zM957 439H964V446H957zM951 446H957V453H951zM1047 466H1054V473H1047zM944 513H951V520H944zM1034 527H1040V534H1034z"/>
<path fill="#f1000e" d="M985 426H992V433H985zM1006 426H1013V433H1006zM1040 453H1047V460H1040zM1047 500H1054V507H1047zM964 534H971V540H964zM978 540H985V547H978z"/>
<path fill="#ff0d00" d="M992 426H999V433H992zM971 433H978V439H971zM1027 439H1034V446H1027zM944 466H951V473H944zM1047 493H1054V500H1047zM985 540H992V547H985z"/>
<path fill="#ff0100" d="M999 426H1006V433H999zM1020 433H1027V439H1020zM1047 473H1054V480H1047zM944 507H951V513H944zM951 520H957V527H951zM957 527H964V534H957zM1006 540H1013V547H1006z"/>
<path fill="#c1003e" d="M1013 426H1020V433H1013zM964 433H971V439H964zM937 480H944V487H937zM937 487H944V493H937zM937 493H944V500H937zM1047 507H1054V513H1047zM1040 520H1047V527H1040zM1027 534H1034V540H1027zM971 540H978V547H971z"/>
<path fill="#ff4700" d="M978 433H985V439H978zM944 480H951V487H944zM944 487H951V493H944zM1040 507H1047V513H1040zM957 520H964V527H957zM964 527H971V534H964zM1013 534H1020V540H1013z"/>
<path fill="#ff6a00" d="M985 433H992V439H985zM1034 453H1040V460H1034zM1040 466H1047V473H1040zM951 507H957V513H951z"/>
<path fill="#ff7500" d="M992 433H1006V439H992zM971 439H978V446H971zM1027 446H1034V453H1027zM1040 500H1047V507H1040zM1034 513H1040V520H1034zM1020 527H1027V534H1020zM1006 534H1013V540H1006z"/>
<path fill="#ff5e00" d="M1006 433H1013V439H1006zM1020 439H1027V446H1020zM978 534H985V540H978z"/>
<path fill="#ff3b00" d="M1013 433H1020V439H1013zM944 493H951V500H944zM951 513H957V520H951z"/>
<path fill="#ff3000" d="M964 439H971V446H964zM957 446H964V453H957zM1040 460H1047V466H1040zM944 473H951V480H944zM1034 520H1040V527H1034zM971 534H978V540H971z"/>
<path fill="#ffbb00" d="M978 439H985V446H978zM951 480H957V487H951zM1034 507H1040V513H1034zM1013 527H1020V534H1013z"/>
<path fill="#ffe900" d="M985 439H992V446H985zM971 446H978V453H971zM1034 466H1040V473H1034zM1027 513H1034V520H1027zM1020 520H1027V527H1020zM1006 527H1013V534H1006z"/>
<path fill="#ffff03" d="M992 439H999V446H992zM957 466H964V473H957zM964 513H971V520H964zM971 520H978V527H971z"/>
<path fill="#fff500" d="M999 439H1006V446H999zM964 453H971V460H964zM1034 500H1040V507H1034zM985 527H992V534H985z"/>
<path fill="#ffde00" d="M1006 439H1013V446H1006zM957 507H964V513H957z"/>
<path fill="#ffa400" d="M1013 439H1020V446H1013zM1040 480H1047V487H1040zM1040 487H1047V493H1040zM964 520H971V527H964z"/>
<path fill="#b1004e" d="M1034 439H1040V446H1034zM937 473H944V480H937zM951 527H957V534H951z"/>
<path fill="#ff8c00" d="M964 446H971V453H964zM1040 473H1047V480H1040zM1027 520H1034V527H1027zM971 527H978V534H971zM992 534H1006V540H992z"/>
<path fill="#ffff81" d="M978 446H985V453H978zM1034 480H1040V487H1034zM1034 487H1040V493H1034zM957 493H964V500H957zM1027 507H1034V513H1027zM1013 520H1020V527H1013z"/>
<path fill="#ffffff" d="M985 446H992V453H985zM1027 466H1034V473H1027zM971 513H978V520H971zM1006 520H1013V527H1006z"/>
<path fill="#fffee6" d="M992 446H1006V453H992zM978 453H1020V460H978zM971 460H1027V466H971zM964 466H1027V473H964zM964 473H1034V480H964zM964 480H1034V487H964zM964 487H1034V493H964zM964 493H1034V500H964zM964 500H1034V507H964zM971 507H1027V513H971zM978 513H1020V520H978zM985 520H1006V527H985z"/>
<path fill="#ffffe6" d="M1006 446H1013V453H1006z"/>
<path fill="#ffff68" d="M1013 446H1020V453H1013zM1027 460H1034V466H1027zM957 473H964V480H957z"/>
<path fill="#ffd200" d="M1020 446H1027V453H1020zM1027 453H1034V460H1027z"/>
<path fill="#ff1800" d="M1034 446H1040V453H1034zM951 453H957V460H951zM1047 480H1054V487H1047zM1047 487H1054V493H1047zM1040 513H1047V520H1040zM1020 534H1027V540H1020zM992 540H1006V547H992z"/>
<path fill="#ff8100" d="M957 453H964V460H957zM951 466H957V473H951zM985 534H992V540H985z"/>
<path fill="#ffffcd" d="M971 453H978V460H971zM964 507H971V513H964zM1020 513H1027V520H1020z"/>
<path fill="#ffffb3" d="M1020 453H1027V460H1020zM957 480H964V487H957zM957 487H964V493H957z"/>
<path fill="#e1001e" d="M944 460H951V466H944zM1013 540H1020V547H1013z"/>
<path fill="#ff5200" d="M951 460H957V466H951z"/>
<path fill="#ffc600" d="M957 460H964V466H957zM951 487H957V493H951zM978 527H985V534H978z"/>
<path fill="#ffff9a" d="M964 460H971V466H964zM978 520H985V527H978z"/>
<path fill="#ffaf00" d="M1034 460H1040V466H1034zM951 473H957V480H951zM951 493H957V500H951z"/>
<path fill="#92006d" d="M937 466H944V473H937zM1047 513H1054V520H1047zM944 520H951V527H944zM964 540H971V547H964zM985 547H992V554H985zM999 547H1006V554H999z"/>
<path fill="#ffff35" d="M1034 473H1040V480H1034z"/>
<path fill="#ffff4f" d="M1034 493H1040V500H1034z"/>
<path fill="#ff9800" d="M1040 493H1047V500H1040zM951 500H957V507H951zM957 513H964V520H957z"/>
<path fill="#ff2400" d="M944 500H951V507H944zM1027 527H1034V534H1027z"/>
<path fill="#ffff1c" d="M957 500H964V507H957zM992 527H1006V534H992z"/>
</g>
<rect x="1138.6" y="338.6" width="16.9" height="275.7" fill="url(#cb)"/>
<rect x="1137.4" y="338.6" width="1.2" height="275.7" fill="#757575"/>
<path d="M854.4 338.6V613.5H1137.4M853.6 339.48h4.4M853.6 352.84h4.4M853.6 366.2h9.3M853.6 379.56h4.4M853.6 392.92h4.4M853.6 406.28h4.4M853.6 419.64h4.4M853.6 433h9.3M853.6 446.36h4.4M853.6 459.72h4.4M853.6 473.08h4.4M853.6 486.44h4.4M853.6 499.8h9.3M853.6 513.16h4.4M853.6 526.52h4.4M853.6 539.88h4.4M853.6 553.24h4.4M853.6 566.6h9.3M853.6 579.96h4.4M853.6 593.32h4.4M853.6 606.68h4.4M861.1 614.3v-8.6M874.55 614.3v-4.6M888.01 614.3v-4.6M901.46 614.3v-4.6M914.92 614.3v-4.6M928.37 614.3v-8.6M941.82 614.3v-4.6M955.28 614.3v-4.6M968.73 614.3v-4.6M982.19 614.3v-4.6M995.64 614.3v-8.6M1009.09 614.3v-4.6M1022.55 614.3v-4.6M1036 614.3v-4.6M1049.46 614.3v-4.6M1062.91 614.3v-8.6M1076.36 614.3v-4.6M1089.82 614.3v-4.6M1103.27 614.3v-4.6M1116.73 614.3v-4.6M1130.18 614.3v-8.6" fill="none" stroke="#000" stroke-width="1.6"/>
<path d="M1144.5 339.5H1154.6V614.3M1155.5 396h-11M1155.5 452.6h-11M1155.5 509.3h-11M1155.5 566h-11" fill="none" stroke="#000" stroke-width="1.8"/>
<ellipse cx="1076.4" cy="557.2" rx="30" ry="29.2" fill="none" stroke="#0f0" stroke-width="6"/>
<text x="837.59" y="373.3" font-size="19" textLength="12.43" lengthAdjust="spacingAndGlyphs">8</text>
<text x="837.45" y="440.1" font-size="19" textLength="12.83" lengthAdjust="spacingAndGlyphs">7</text>
<text x="837.47" y="506.9" font-size="19" textLength="12.56" lengthAdjust="spacingAndGlyphs">6</text>
<text x="837.72" y="573.7" font-size="19" textLength="12.29" lengthAdjust="spacingAndGlyphs">5</text>
<text x="843.73" y="637.6" font-size="19" textLength="35.7" lengthAdjust="spacingAndGlyphs">285</text>
<text x="911.82" y="637.6" font-size="19" textLength="36.12" lengthAdjust="spacingAndGlyphs">286</text>
<text x="978.41" y="637.6" font-size="19" textLength="36.36" lengthAdjust="spacingAndGlyphs">287</text>
<text x="1045.53" y="637.6" font-size="19" textLength="35.6" lengthAdjust="spacingAndGlyphs">288</text>
<text x="1113.21" y="637.6" font-size="19" textLength="36.24" lengthAdjust="spacingAndGlyphs">289</text>
<text x="1160.14" y="345.1" font-size="19.8" textLength="23.66" lengthAdjust="spacingAndGlyphs">20</text>
<text x="1159.56" y="401.9" font-size="19.8" textLength="24.37" lengthAdjust="spacingAndGlyphs">15</text>
<text x="1159.57" y="458.5" font-size="19.8" textLength="24.25" lengthAdjust="spacingAndGlyphs">10</text>
<text x="1160.31" y="515.2" font-size="19.8" textLength="12.41" lengthAdjust="spacingAndGlyphs">5</text>
<text x="1160.32" y="571.9" font-size="19.8" textLength="12.28" lengthAdjust="spacingAndGlyphs">0</text>
<text transform="translate(830.6 550.7) rotate(-90)" x="-1.98" y="0" font-size="24.3" textLength="156" lengthAdjust="spacingAndGlyphs">Declination (°)</text>
<text x="897.01" y="662.2" font-size="23" textLength="210.18" lengthAdjust="spacingAndGlyphs">Right ascension (°)</text>
<g shape-rendering="crispEdges">
<path fill="#00006c" d="M1573 333H1593V340H1573zM1773 333H1800V340H1773zM1573 340H1580V347H1573zM1780 340H1806V347H1780zM1793 347H1813V354H1793zM1800 354H1820V360H1800zM1806 360H1826V367H1806zM1813 367H1833V374H1813zM1813 374H1833V380H1813zM1820 380H1840V387H1820zM1826 387H1846V394H1826zM1826 394H1846V401H1826zM1833 401H1853V407H1833zM1833 407H1853V414H1833zM1840 414H1853V421H1840zM1840 421H1853V427H1840zM1840 427H1853V434H1840zM1846 434H1853V441H1846zM1846 441H1853V448H1846zM1846 448H1853V454H1846zM1846 454H1853V461H1846zM1846 461H1853V468H1846zM1846 501H1853V508H1846zM1846 508H1853V515H1846zM1846 515H1853V521H1846zM1846 521H1853V528H1846zM1846 528H1853V535H1846zM1840 535H1853V542H1840zM1840 542H1853V548H1840zM1840 548H1853V555H1840zM1833 555H1853V562H1833zM1833 562H1846V568H1833zM1826 568H1846V575H1826zM1826 575H1840V582H1826zM1820 582H1840V589H1820zM1813 589H1833V595H1813zM1813 595H1833V602H1813zM1806 602H1826V609H1806z"/>
<path fill="#000071" d="M1593 333H1633V340H1593zM1746 333H1773V340H1746zM1580 340H1613V347H1580zM1760 340H1780V347H1760zM1573 347H1600V354H1573zM1773 347H1793V354H1773zM1573 354H1593V360H1573zM1780 354H1800V360H1780zM1573 360H1587V367H1573zM1786 360H1806V367H1786zM1573 367H1580V374H1573zM1793 367H1813V374H1793zM1573 374H1580V380H1573zM1800 374H1813V380H1800zM1806 380H1820V387H1806zM1813 387H1826V394H1813zM1813 394H1826V401H1813zM1820 401H1833V407H1820zM1820 407H1833V414H1820zM1826 414H1840V421H1826zM1826 421H1840V427H1826zM1833 427H1840V434H1833zM1833 434H1846V441H1833zM1833 441H1846V448H1833zM1833 448H1846V454H1833zM1840 454H1846V461H1840zM1840 461H1846V468H1840zM1840 468H1853V474H1840zM1840 474H1853V481H1840zM1840 481H1853V488H1840zM1840 488H1853V495H1840zM1840 495H1853V501H1840zM1840 501H1846V508H1840zM1840 508H1846V515H1840zM1833 515H1846V521H1833zM1833 521H1846V528H1833zM1833 528H1846V535H1833zM1833 535H1840V542H1833zM1826 542H1840V548H1826zM1826 548H1840V555H1826zM1820 555H1833V562H1820zM1820 562H1833V568H1820zM1813 568H1826V575H1813zM1813 575H1826V582H1813zM1806 582H1820V589H1806zM1800 589H1813V595H1800zM1793 595H1813V602H1793zM1786 602H1806V609H1786z"/>
<path fill="#000077" d="M1633 333H1686V340H1633zM1693 333H1746V340H1693zM1613 340H1646V347H1613zM1733 340H1760V347H1733zM1600 347H1626V354H1600zM1753 347H1773V354H1753zM1593 354H1620V360H1593zM1766 354H1780V360H1766zM1587 360H1607V367H1587zM1773 360H1786V367H1773zM1580 367H1600V374H1580zM1780 367H1793V374H1780zM1580 374H1593V380H1580zM1786 374H1800V380H1786zM1573 380H1587V387H1573zM1793 380H1806V387H1793zM1573 387H1580V394H1573zM1800 387H1813V394H1800zM1573 394H1580V401H1573zM1806 394H1813V401H1806zM1806 401H1820V407H1806zM1813 407H1820V414H1813zM1813 414H1826V421H1813zM1820 421H1826V427H1820zM1820 427H1833V434H1820zM1826 434H1833V441H1826zM1826 441H1833V448H1826zM1826 448H1833V454H1826zM1826 454H1840V461H1826zM1833 461H1840V468H1833zM1833 468H1840V474H1833zM1833 474H1840V481H1833zM1833 481H1840V488H1833zM1833 488H1840V495H1833zM1833 495H1840V501H1833zM1833 501H1840V508H1833zM1826 508H1840V515H1826zM1826 515H1833V521H1826zM1826 521H1833V528H1826zM1826 528H1833V535H1826zM1820 535H1833V542H1820zM1820 542H1826V548H1820zM1820 548H1826V555H1820zM1813 555H1820V562H1813zM1813 562H1820V568H1813zM1806 568H1813V575H1806zM1800 575H1813V582H1800zM1793 582H1806V589H1793zM1786 589H1800V595H1786zM1780 595H1793V602H1780zM1773 602H1786V609H1773z"/>
<path fill="#00007c" d="M1686 333H1693V340H1686zM1646 340H1733V347H1646zM1626 347H1653V354H1626zM1733 347H1753V354H1733zM1620 354H1640V360H1620zM1746 354H1766V360H1746zM1607 360H1626V367H1607zM1760 360H1773V367H1760zM1600 367H1613V374H1600zM1773 367H1780V374H1773zM1593 374H1607V380H1593zM1780 374H1786V380H1780zM1587 380H1600V387H1587zM1786 380H1793V387H1786zM1580 387H1593V394H1580zM1793 387H1800V394H1793zM1580 394H1593V401H1580zM1793 394H1806V401H1793zM1573 401H1587V407H1573zM1800 401H1806V407H1800zM1573 407H1580V414H1573zM1806 407H1813V414H1806zM1573 414H1580V421H1573zM1806 414H1813V421H1806zM1573 421H1580V427H1573zM1813 421H1820V427H1813zM1813 427H1820V434H1813zM1820 434H1826V441H1820zM1820 441H1826V448H1820zM1820 448H1826V454H1820zM1820 454H1826V461H1820zM1826 461H1833V468H1826zM1826 468H1833V474H1826zM1826 474H1833V481H1826zM1826 481H1833V488H1826zM1826 488H1833V495H1826zM1826 495H1833V501H1826zM1826 501H1833V508H1826zM1820 508H1826V515H1820zM1820 515H1826V521H1820zM1820 521H1826V528H1820zM1820 528H1826V535H1820zM1813 535H1820V542H1813zM1813 542H1820V548H1813zM1806 548H1820V555H1806zM1806 555H1813V562H1806zM1800 562H1813V568H1800zM1800 568H1806V575H1800zM1793 575H1800V582H1793zM1786 582H1793V589H1786zM1780 589H1786V595H1780zM1773 595H1780V602H1773zM1766 602H1773V609H1766z"/>
<path fill="#000067" d="M1800 333H1846V340H1800zM1806 340H1853V347H1806zM1813 347H1853V354H1813zM1820 354H1853V360H1820zM1826 360H1853V367H1826zM1833 367H1853V374H1833zM1833 374H1853V380H1833zM1840 380H1853V387H1840zM1846 387H1853V394H1846zM1846 394H1853V401H1846zM1846 562H1853V568H1846zM1846 568H1853V575H1846zM1840 575H1853V582H1840zM1840 582H1853V589H1840zM1833 589H1853V595H1833zM1833 595H1853V602H1833zM1826 602H1853V609H1826z"/>
<path fill="#000061" d="M1846 333H1853V340H1846z"/>
<path fill="#000081" d="M1653 347H1733V354H1653zM1640 354H1660V360H1640zM1733 354H1746V360H1733zM1626 360H1646V367H1626zM1746 360H1760V367H1746zM1613 367H1633V374H1613zM1760 367H1773V374H1760zM1607 374H1620V380H1607zM1766 374H1780V380H1766zM1600 380H1613V387H1600zM1773 380H1786V387H1773zM1593 387H1607V394H1593zM1780 387H1793V394H1780zM1593 394H1600V401H1593zM1786 394H1793V401H1786zM1587 401H1600V407H1587zM1793 401H1800V407H1793zM1580 407H1593V414H1580zM1800 407H1806V414H1800zM1580 414H1587V421H1580zM1800 414H1806V421H1800zM1580 421H1587V427H1580zM1806 421H1813V427H1806zM1573 427H1587V434H1573zM1806 427H1813V434H1806zM1573 434H1580V441H1573zM1813 434H1820V441H1813zM1573 441H1580V448H1573zM1813 441H1820V448H1813zM1573 448H1580V454H1573zM1813 448H1820V454H1813zM1573 454H1580V461H1573zM1813 454H1820V461H1813zM1820 461H1826V468H1820zM1820 468H1826V474H1820zM1820 474H1826V481H1820zM1820 481H1826V488H1820zM1820 488H1826V495H1820zM1820 495H1826V501H1820zM1820 501H1826V508H1820zM1813 515H1820V521H1813zM1813 521H1820V528H1813zM1813 528H1820V535H1813zM1806 535H1813V542H1806zM1806 542H1813V548H1806zM1800 555H1806V562H1800zM1793 562H1800V568H1793zM1793 568H1800V575H1793zM1786 575H1793V582H1786zM1780 582H1786V589H1780zM1773 589H1780V595H1773zM1760 595H1773V602H1760zM1753 602H1766V609H1753z"/>
<path fill="#000086" d="M1660 354H1733V360H1660zM1646 360H1660V367H1646zM1733 360H1746V367H1733zM1633 367H1646V374H1633zM1746 367H1760V374H1746zM1620 374H1633V380H1620zM1760 374H1766V380H1760zM1613 380H1626V387H1613zM1766 380H1773V387H1766zM1607 387H1620V394H1607zM1773 387H1780V394H1773zM1600 394H1613V401H1600zM1780 394H1786V401H1780zM1600 401H1607V407H1600zM1786 401H1793V407H1786zM1593 407H1600V414H1593zM1793 407H1800V414H1793zM1587 414H1600V421H1587zM1793 414H1800V421H1793zM1587 421H1593V427H1587zM1800 421H1806V427H1800zM1587 427H1593V434H1587zM1800 427H1806V434H1800zM1580 434H1587V441H1580zM1806 434H1813V441H1806zM1580 441H1587V448H1580zM1806 441H1813V448H1806zM1580 448H1587V454H1580zM1580 454H1587V461H1580zM1573 461H1580V468H1573zM1813 461H1820V468H1813zM1573 468H1580V474H1573zM1813 468H1820V474H1813zM1573 474H1580V481H1573zM1813 474H1820V481H1813zM1573 481H1580V488H1573zM1813 481H1820V488H1813zM1573 488H1580V495H1573zM1813 488H1820V495H1813zM1573 495H1580V501H1573zM1813 495H1820V501H1813zM1573 501H1580V508H1573zM1813 501H1820V508H1813zM1813 508H1820V515H1813zM1806 521H1813V528H1806zM1806 528H1813V535H1806zM1800 542H1806V548H1800zM1800 548H1806V555H1800zM1793 555H1800V562H1793zM1786 562H1793V568H1786zM1786 568H1793V575H1786zM1780 575H1786V582H1780zM1766 582H1780V589H1766zM1760 589H1773V595H1760zM1753 595H1760V602H1753zM1740 602H1753V609H1740z"/>
<path fill="#00008c" d="M1660 360H1680V367H1660zM1713 360H1733V367H1713zM1646 367H1660V374H1646zM1740 367H1746V374H1740zM1633 374H1646V380H1633zM1753 374H1760V380H1753zM1626 380H1633V387H1626zM1760 380H1766V387H1760zM1620 387H1626V394H1620zM1766 387H1773V394H1766zM1613 394H1620V401H1613zM1773 394H1780V401H1773zM1607 401H1613V407H1607zM1780 401H1786V407H1780zM1600 407H1613V414H1600zM1786 407H1793V414H1786zM1600 414H1607V421H1600zM1593 421H1600V427H1593zM1793 421H1800V427H1793zM1593 427H1600V434H1593zM1587 434H1600V441H1587zM1800 434H1806V441H1800zM1587 441H1593V448H1587zM1587 448H1593V454H1587zM1806 448H1813V454H1806zM1587 454H1593V461H1587zM1806 454H1813V461H1806zM1580 461H1593V468H1580zM1806 461H1813V468H1806zM1580 468H1587V474H1580zM1806 468H1813V474H1806zM1580 474H1587V481H1580zM1580 481H1587V488H1580zM1580 488H1587V495H1580zM1580 495H1587V501H1580zM1580 501H1587V508H1580zM1806 501H1813V508H1806zM1573 508H1580V515H1573zM1806 508H1813V515H1806zM1573 515H1580V521H1573zM1806 515H1813V521H1806zM1573 521H1580V528H1573zM1800 528H1806V535H1800zM1800 535H1806V542H1800zM1793 542H1800V548H1793zM1793 548H1800V555H1793zM1786 555H1793V562H1786zM1780 562H1786V568H1780zM1780 568H1786V575H1780zM1773 575H1780V582H1773zM1760 582H1766V589H1760zM1753 589H1760V595H1753zM1740 595H1753V602H1740zM1573 602H1580V609H1573zM1726 602H1740V609H1726z"/>
<path fill="#000091" d="M1680 360H1713V367H1680zM1660 367H1673V374H1660zM1726 367H1740V374H1726zM1646 374H1653V380H1646zM1740 374H1753V380H1740zM1633 380H1646V387H1633zM1753 380H1760V387H1753zM1626 387H1633V394H1626zM1760 387H1766V394H1760zM1620 394H1626V401H1620zM1613 401H1620V407H1613zM1613 407H1620V414H1613zM1780 407H1786V414H1780zM1607 414H1613V421H1607zM1786 414H1793V421H1786zM1600 421H1607V427H1600zM1600 427H1607V434H1600zM1793 427H1800V434H1793zM1593 441H1600V448H1593zM1800 441H1806V448H1800zM1593 448H1600V454H1593zM1800 448H1806V454H1800zM1593 454H1600V461H1593zM1587 468H1593V474H1587zM1587 474H1593V481H1587zM1806 474H1813V481H1806zM1587 481H1593V488H1587zM1806 481H1813V488H1806zM1587 488H1593V495H1587zM1806 488H1813V495H1806zM1587 495H1593V501H1587zM1806 495H1813V501H1806zM1587 501H1593V508H1587zM1580 508H1587V515H1580zM1580 515H1587V521H1580zM1800 515H1806V521H1800zM1580 521H1587V528H1580zM1800 521H1806V528H1800zM1573 528H1580V535H1573zM1573 535H1580V542H1573zM1793 535H1800V542H1793zM1786 548H1793V555H1786zM1773 568H1780V575H1773zM1766 575H1773V582H1766zM1753 582H1760V589H1753zM1573 589H1580V595H1573zM1746 589H1753V595H1746zM1573 595H1580V602H1573zM1733 595H1740V602H1733zM1580 602H1593V609H1580zM1720 602H1726V609H1720z"/>
<path fill="#000096" d="M1673 367H1693V374H1673zM1706 367H1726V374H1706zM1653 374H1666V380H1653zM1733 374H1740V380H1733zM1646 380H1653V387H1646zM1746 380H1753V387H1746zM1633 387H1640V394H1633zM1626 394H1633V401H1626zM1766 394H1773V401H1766zM1620 401H1626V407H1620zM1773 401H1780V407H1773zM1620 407H1626V414H1620zM1613 414H1620V421H1613zM1780 414H1786V421H1780zM1607 421H1613V427H1607zM1786 421H1793V427H1786zM1607 427H1613V434H1607zM1600 434H1607V441H1600zM1793 434H1800V441H1793zM1600 441H1607V448H1600zM1793 441H1800V448H1793zM1600 448H1607V454H1600zM1800 454H1806V461H1800zM1593 461H1600V468H1593zM1800 461H1806V468H1800zM1593 468H1600V474H1593zM1800 468H1806V474H1800zM1593 474H1600V481H1593zM1593 481H1600V488H1593zM1593 488H1600V495H1593zM1593 495H1600V501H1593zM1593 501H1600V508H1593zM1800 501H1806V508H1800zM1587 508H1593V515H1587zM1800 508H1806V515H1800zM1587 515H1593V521H1587zM1587 521H1593V528H1587zM1580 528H1587V535H1580zM1793 528H1800V535H1793zM1580 535H1587V542H1580zM1573 542H1580V548H1573zM1786 542H1793V548H1786zM1573 548H1580V555H1573zM1573 555H1580V562H1573zM1780 555H1786V562H1780zM1573 562H1580V568H1573zM1773 562H1780V568H1773zM1573 568H1580V575H1573zM1766 568H1773V575H1766zM1573 575H1580V582H1573zM1760 575H1766V582H1760zM1573 582H1580V589H1573zM1746 582H1753V589H1746zM1580 589H1587V595H1580zM1733 589H1746V595H1733zM1580 595H1593V602H1580zM1720 595H1733V602H1720zM1593 602H1600V609H1593zM1706 602H1720V609H1706z"/>
<path fill="#00009c" d="M1693 367H1706V374H1693zM1666 374H1680V380H1666zM1720 374H1733V380H1720zM1653 380H1660V387H1653zM1740 380H1746V387H1740zM1640 387H1646V394H1640zM1753 387H1760V394H1753zM1633 394H1640V401H1633zM1760 394H1766V401H1760zM1626 401H1633V407H1626zM1766 401H1773V407H1766zM1773 407H1780V414H1773zM1620 414H1626V421H1620zM1613 421H1620V427H1613zM1613 427H1620V434H1613zM1786 427H1793V434H1786zM1607 434H1613V441H1607zM1607 441H1613V448H1607zM1607 448H1613V454H1607zM1793 448H1800V454H1793zM1600 454H1607V461H1600zM1600 461H1607V468H1600zM1600 468H1607V474H1600zM1600 474H1607V481H1600zM1800 474H1806V481H1800zM1600 481H1607V488H1600zM1800 481H1806V488H1800zM1600 488H1607V495H1600zM1800 488H1806V495H1800zM1800 495H1806V501H1800zM1593 508H1600V515H1593zM1593 515H1600V521H1593zM1593 521H1600V528H1593zM1793 521H1800V528H1793zM1587 528H1593V535H1587zM1587 535H1593V542H1587zM1786 535H1793V542H1786zM1580 542H1587V548H1580zM1580 548H1587V555H1580zM1780 548H1786V555H1780zM1580 555H1587V562H1580zM1773 555H1780V562H1773zM1580 562H1587V568H1580zM1766 562H1773V568H1766zM1580 568H1587V575H1580zM1760 568H1766V575H1760zM1580 575H1587V582H1580zM1753 575H1760V582H1753zM1580 582H1587V589H1580zM1740 582H1746V589H1740zM1587 589H1593V595H1587zM1726 589H1733V595H1726zM1593 595H1600V602H1593zM1706 595H1720V602H1706zM1600 602H1620V609H1600zM1686 602H1706V609H1686z"/>
<path fill="#0000a1" d="M1680 374H1720V380H1680zM1660 380H1666V387H1660zM1733 380H1740V387H1733zM1646 387H1653V394H1646zM1746 387H1753V394H1746zM1640 394H1646V401H1640zM1753 394H1760V401H1753zM1633 401H1640V407H1633zM1626 407H1633V414H1626zM1773 414H1780V421H1773zM1620 421H1626V427H1620zM1780 421H1786V427H1780zM1613 434H1620V441H1613zM1786 434H1793V441H1786zM1613 441H1620V448H1613zM1607 454H1613V461H1607zM1793 454H1800V461H1793zM1607 461H1613V468H1607zM1793 461H1800V468H1793zM1607 468H1613V474H1607zM1607 474H1613V481H1607zM1600 495H1607V501H1600zM1600 501H1607V508H1600zM1600 508H1607V515H1600zM1793 508H1800V515H1793zM1600 515H1607V521H1600zM1793 515H1800V521H1793zM1600 521H1607V528H1600zM1593 528H1600V535H1593zM1786 528H1793V535H1786zM1593 535H1600V542H1593zM1587 542H1593V548H1587zM1780 542H1786V548H1780zM1587 548H1593V555H1587zM1773 548H1780V555H1773zM1587 555H1593V562H1587zM1587 562H1593V568H1587zM1587 568H1593V575H1587zM1753 568H1760V575H1753zM1587 575H1593V582H1587zM1746 575H1753V582H1746zM1587 582H1600V589H1587zM1733 582H1740V589H1733zM1593 589H1600V595H1593zM1713 589H1726V595H1713zM1600 595H1613V602H1600zM1693 595H1706V602H1693zM1620 602H1646V609H1620zM1653 602H1686V609H1653z"/>
<path fill="#0000a6" d="M1666 380H1680V387H1666zM1726 380H1733V387H1726zM1653 387H1660V394H1653zM1740 387H1746V394H1740zM1646 394H1653V401H1646zM1640 401H1646V407H1640zM1760 401H1766V407H1760zM1633 407H1640V414H1633zM1766 407H1773V414H1766zM1626 414H1633V421H1626zM1626 421H1633V427H1626zM1620 427H1626V434H1620zM1780 427H1786V434H1780zM1620 434H1626V441H1620zM1786 441H1793V448H1786zM1613 448H1620V454H1613zM1613 454H1620V461H1613zM1793 468H1800V474H1793zM1793 474H1800V481H1793zM1607 481H1613V488H1607zM1793 481H1800V488H1793zM1607 488H1613V495H1607zM1793 488H1800V495H1793zM1607 495H1613V501H1607zM1793 495H1800V501H1793zM1607 501H1613V508H1607zM1793 501H1800V508H1793zM1607 508H1613V515H1607zM1607 515H1613V521H1607zM1786 521H1793V528H1786zM1600 528H1607V535H1600zM1600 535H1607V542H1600zM1780 535H1786V542H1780zM1593 542H1600V548H1593zM1593 548H1600V555H1593zM1593 555H1600V562H1593zM1766 555H1773V562H1766zM1593 562H1600V568H1593zM1760 562H1766V568H1760zM1593 568H1600V575H1593zM1746 568H1753V575H1746zM1593 575H1600V582H1593zM1733 575H1746V582H1733zM1600 582H1607V589H1600zM1720 582H1733V589H1720zM1600 589H1613V595H1600zM1700 589H1713V595H1700zM1613 595H1633V602H1613zM1673 595H1693V602H1673zM1646 602H1653V609H1646z"/>
<path fill="#0000ab" d="M1680 380H1693V387H1680zM1713 380H1726V387H1713zM1660 387H1666V394H1660zM1733 387H1740V394H1733zM1653 394H1660V401H1653zM1746 394H1753V401H1746zM1753 401H1760V407H1753zM1640 407H1646V414H1640zM1633 414H1640V421H1633zM1766 414H1773V421H1766zM1773 421H1780V427H1773zM1626 427H1633V434H1626zM1780 434H1786V441H1780zM1620 441H1626V448H1620zM1786 448H1793V454H1786zM1613 461H1620V468H1613zM1613 468H1620V474H1613zM1613 474H1620V481H1613zM1613 481H1620V488H1613zM1613 488H1620V495H1613zM1613 495H1620V501H1613zM1613 501H1620V508H1613zM1613 508H1620V515H1613zM1613 515H1620V521H1613zM1786 515H1793V521H1786zM1607 521H1613V528H1607zM1607 528H1613V535H1607zM1607 535H1613V542H1607zM1600 542H1607V548H1600zM1773 542H1780V548H1773zM1600 548H1607V555H1600zM1766 548H1773V555H1766zM1600 555H1607V562H1600zM1760 555H1766V562H1760zM1600 562H1607V568H1600zM1753 562H1760V568H1753zM1600 568H1607V575H1600zM1740 568H1746V575H1740zM1600 575H1607V582H1600zM1726 575H1733V582H1726zM1607 582H1613V589H1607zM1706 582H1720V589H1706zM1613 589H1626V595H1613zM1686 589H1700V595H1686zM1633 595H1673V602H1633z"/>
<path fill="#0000b1" d="M1693 380H1713V387H1693zM1666 387H1673V394H1666zM1726 387H1733V394H1726zM1646 401H1653V407H1646zM1760 407H1766V414H1760zM1633 421H1640V427H1633zM1773 427H1780V434H1773zM1626 434H1633V441H1626zM1620 448H1626V454H1620zM1620 454H1626V461H1620zM1786 454H1793V461H1786zM1620 461H1626V468H1620zM1786 461H1793V468H1786zM1620 468H1626V474H1620zM1786 508H1793V515H1786zM1613 521H1620V528H1613zM1613 528H1620V535H1613zM1780 528H1786V535H1780zM1613 535H1620V542H1613zM1607 542H1613V548H1607zM1607 548H1613V555H1607zM1607 555H1613V562H1607zM1607 562H1613V568H1607zM1746 562H1753V568H1746zM1607 568H1613V575H1607zM1733 568H1740V575H1733zM1607 575H1620V582H1607zM1720 575H1726V582H1720zM1613 582H1626V589H1613zM1693 582H1706V589H1693zM1626 589H1686V595H1626z"/>
<path fill="#0000b6" d="M1673 387H1680V394H1673zM1720 387H1726V394H1720zM1660 394H1666V401H1660zM1740 394H1746V401H1740zM1653 401H1660V407H1653zM1746 401H1753V407H1746zM1646 407H1653V414H1646zM1640 414H1646V421H1640zM1766 421H1773V427H1766zM1633 427H1640V434H1633zM1626 441H1633V448H1626zM1780 441H1786V448H1780zM1626 448H1633V454H1626zM1786 468H1793V474H1786zM1620 474H1626V481H1620zM1786 474H1793V481H1786zM1620 481H1626V488H1620zM1620 488H1626V495H1620zM1620 495H1626V501H1620zM1786 495H1793V501H1786zM1620 501H1626V508H1620zM1786 501H1793V508H1786zM1620 508H1626V515H1620zM1620 515H1626V521H1620zM1620 521H1626V528H1620zM1780 521H1786V528H1780zM1620 528H1626V535H1620zM1620 535H1626V542H1620zM1773 535H1780V542H1773zM1613 542H1626V548H1613zM1766 542H1773V548H1766zM1613 548H1620V555H1613zM1760 548H1766V555H1760zM1613 555H1620V562H1613zM1753 555H1760V562H1753zM1613 562H1620V568H1613zM1613 568H1626V575H1613zM1726 568H1733V575H1726zM1620 575H1633V582H1620zM1706 575H1720V582H1706zM1626 582H1693V589H1626z"/>
<path fill="#0000bb" d="M1680 387H1693V394H1680zM1713 387H1720V394H1713zM1666 394H1673V401H1666zM1733 394H1740V401H1733zM1753 407H1760V414H1753zM1760 414H1766V421H1760zM1640 421H1646V427H1640zM1633 434H1640V441H1633zM1773 434H1780V441H1773zM1780 448H1786V454H1780zM1626 454H1633V461H1626zM1626 461H1633V468H1626zM1626 468H1633V474H1626zM1626 474H1633V481H1626zM1626 481H1633V488H1626zM1786 481H1793V488H1786zM1626 488H1633V495H1626zM1786 488H1793V495H1786zM1626 495H1633V501H1626zM1626 501H1633V508H1626zM1626 508H1633V515H1626zM1626 515H1633V521H1626zM1780 515H1786V521H1780zM1626 521H1633V528H1626zM1626 528H1633V535H1626zM1773 528H1780V535H1773zM1626 535H1633V542H1626zM1626 542H1633V548H1626zM1620 548H1633V555H1620zM1620 555H1633V562H1620zM1746 555H1753V562H1746zM1620 562H1633V568H1620zM1740 562H1746V568H1740zM1626 568H1640V575H1626zM1720 568H1726V575H1720zM1633 575H1653V582H1633zM1680 575H1706V582H1680z"/>
<path fill="#0000c1" d="M1693 387H1713V394H1693zM1673 394H1680V401H1673zM1660 401H1666V407H1660zM1740 401H1746V407H1740zM1653 407H1660V414H1653zM1646 414H1653V421H1646zM1766 427H1773V434H1766zM1633 441H1640V448H1633zM1780 454H1786V461H1780zM1780 508H1786V515H1780zM1633 528H1640V535H1633zM1633 535H1640V542H1633zM1766 535H1773V542H1766zM1633 542H1640V548H1633zM1633 548H1640V555H1633zM1753 548H1760V555H1753zM1633 555H1640V562H1633zM1633 562H1646V568H1633zM1733 562H1740V568H1733zM1640 568H1653V575H1640zM1700 568H1720V575H1700zM1653 575H1680V582H1653z"/>
<path fill="#0000cb" d="M1680 394H1693V401H1680zM1720 394H1726V401H1720zM1666 401H1673V407H1666zM1733 401H1740V407H1733zM1660 407H1666V414H1660zM1653 414H1660V421H1653zM1646 421H1653V427H1646zM1640 434H1646V441H1640zM1773 448H1780V454H1773zM1633 461H1640V468H1633zM1633 468H1640V474H1633zM1780 468H1786V474H1780zM1633 474H1640V481H1633zM1780 474H1786V481H1780zM1633 481H1640V488H1633zM1633 488H1640V495H1633zM1780 488H1786V495H1780zM1780 495H1786V501H1780zM1640 515H1646V521H1640zM1640 521H1646V528H1640zM1640 528H1646V535H1640zM1766 528H1773V535H1766zM1646 542H1653V548H1646zM1646 548H1653V555H1646zM1746 548H1753V555H1746zM1653 555H1666V562H1653zM1733 555H1740V562H1733zM1660 562H1720V568H1660z"/>
<path fill="#0000d0" d="M1693 394H1720V401H1693zM1673 401H1680V407H1673zM1740 407H1746V414H1740zM1646 427H1653V434H1646zM1766 434H1773V441H1766zM1640 441H1646V448H1640zM1780 481H1786V488H1780zM1640 501H1646V508H1640zM1640 508H1646V515H1640zM1773 515H1780V521H1773zM1646 528H1653V535H1646zM1646 535H1653V542H1646zM1760 535H1766V542H1760zM1653 542H1660V548H1653zM1753 542H1760V548H1753zM1653 548H1666V555H1653zM1666 555H1680V562H1666zM1726 555H1733V562H1726z"/>
<path fill="#0000c6" d="M1726 394H1733V401H1726zM1746 407H1753V414H1746zM1753 414H1760V421H1753zM1760 421H1766V427H1760zM1640 427H1646V434H1640zM1773 441H1780V448H1773zM1633 448H1640V454H1633zM1633 454H1640V461H1633zM1780 461H1786V468H1780zM1633 495H1640V501H1633zM1633 501H1640V508H1633zM1780 501H1786V508H1780zM1633 508H1640V515H1633zM1633 515H1640V521H1633zM1633 521H1640V528H1633zM1773 521H1780V528H1773zM1640 535H1646V542H1640zM1640 542H1646V548H1640zM1760 542H1766V548H1760zM1640 548H1646V555H1640zM1640 555H1653V562H1640zM1740 555H1746V562H1740zM1646 562H1660V568H1646zM1720 562H1733V568H1720zM1653 568H1700V575H1653z"/>
<path fill="#0000db" d="M1680 401H1686V407H1680zM1720 401H1726V407H1720zM1660 414H1666V421H1660zM1646 434H1653V441H1646zM1766 441H1773V448H1766zM1640 461H1646V468H1640zM1773 461H1780V468H1773zM1640 468H1646V474H1640zM1640 474H1646V481H1640zM1640 481H1646V488H1640zM1773 501H1780V508H1773zM1646 508H1653V515H1646zM1766 521H1773V528H1766zM1653 528H1660V535H1653zM1660 535H1666V542H1660zM1666 542H1673V548H1666zM1746 542H1753V548H1746zM1673 548H1680V555H1673zM1733 548H1740V555H1733zM1700 555H1713V562H1700z"/>
<path fill="#0000e0" d="M1686 401H1693V407H1686zM1713 401H1720V407H1713zM1673 407H1680V414H1673zM1733 407H1740V414H1733zM1653 427H1660V434H1653zM1760 434H1766V441H1760zM1646 441H1653V448H1646zM1773 468H1780V474H1773zM1646 495H1653V501H1646zM1773 495H1780V501H1773zM1646 501H1653V508H1646zM1653 521H1660V528H1653zM1660 528H1666V535H1660zM1760 528H1766V535H1760zM1666 535H1673V542H1666zM1753 535H1760V542H1753zM1673 542H1680V548H1673zM1680 548H1693V555H1680zM1726 548H1733V555H1726z"/>
<path fill="#0000e6" d="M1693 401H1713V407H1693zM1666 414H1673V421H1666zM1740 414H1746V421H1740zM1660 421H1666V427H1660zM1753 427H1760V434H1753zM1646 448H1653V454H1646zM1766 448H1773V454H1766zM1773 474H1780V481H1773zM1773 481H1780V488H1773zM1646 488H1653V495H1646zM1773 488H1780V495H1773zM1653 515H1660V521H1653zM1766 515H1773V521H1766zM1680 542H1686V548H1680zM1740 542H1746V548H1740zM1693 548H1706V555H1693zM1713 548H1726V555H1713z"/>
<path fill="#0000d6" d="M1726 401H1733V407H1726zM1666 407H1673V414H1666zM1746 414H1753V421H1746zM1653 421H1660V427H1653zM1753 421H1760V427H1753zM1760 427H1766V434H1760zM1640 448H1646V454H1640zM1640 454H1646V461H1640zM1773 454H1780V461H1773zM1640 488H1646V495H1640zM1640 495H1646V501H1640zM1773 508H1780V515H1773zM1646 515H1653V521H1646zM1646 521H1653V528H1646zM1653 535H1660V542H1653zM1660 542H1666V548H1660zM1666 548H1673V555H1666zM1740 548H1746V555H1740zM1680 555H1700V562H1680zM1713 555H1726V562H1713z"/>
<path fill="#0000eb" d="M1680 407H1686V414H1680zM1726 407H1733V414H1726zM1746 421H1753V427H1746zM1653 434H1660V441H1653zM1646 454H1653V461H1646zM1646 461H1653V468H1646zM1646 468H1653V474H1646zM1646 474H1653V481H1646zM1646 481H1653V488H1646zM1653 508H1660V515H1653zM1660 521H1666V528H1660zM1760 521H1766V528H1760zM1666 528H1673V535H1666zM1673 535H1680V542H1673zM1746 535H1753V542H1746zM1686 542H1693V548H1686zM1706 548H1713V555H1706z"/>
<path fill="#0000f5" d="M1686 407H1693V414H1686zM1720 407H1726V414H1720zM1673 414H1680V421H1673zM1733 414H1740V421H1733zM1666 421H1673V427H1666zM1660 427H1666V434H1660zM1653 441H1660V448H1653zM1653 495H1660V501H1653zM1766 501H1773V508H1766zM1660 508H1666V515H1660zM1666 521H1673V528H1666zM1673 528H1680V535H1673zM1680 535H1686V542H1680zM1700 542H1706V548H1700zM1726 542H1733V548H1726z"/>
<path fill="#0000fb" d="M1693 407H1700V414H1693zM1713 407H1720V414H1713zM1740 421H1746V427H1740zM1753 434H1760V441H1753zM1653 448H1660V454H1653zM1766 461H1773V468H1766zM1653 488H1660V495H1653zM1760 515H1766V521H1760zM1686 535H1693V542H1686zM1740 535H1746V542H1740zM1706 542H1726V548H1706z"/>
<path fill="#0300fc" d="M1700 407H1713V414H1700zM1680 414H1686V421H1680zM1746 427H1753V434H1746zM1660 434H1666V441H1660zM1760 448H1766V454H1760zM1653 454H1660V461H1653zM1766 468H1773V474H1766zM1653 481H1660V488H1653zM1766 495H1773V501H1766zM1660 501H1666V508H1660zM1666 515H1673V521H1666zM1753 521H1760V528H1753zM1680 528H1686V535H1680zM1746 528H1753V535H1746zM1733 535H1740V542H1733z"/>
<path fill="#2300dc" d="M1686 414H1693V421H1686zM1733 421H1740V427H1733zM1660 441H1666V448H1660zM1753 441H1760V448H1753zM1760 454H1766V461H1760zM1660 495H1666V501H1660zM1666 508H1673V515H1666zM1686 528H1693V535H1686zM1700 535H1713V542H1700zM1726 535H1733V542H1726z"/>
<path fill="#4300bc" d="M1693 414H1700V421H1693zM1713 414H1720V421H1713zM1680 421H1686V427H1680zM1666 434H1673V441H1666zM1746 434H1753V441H1746zM1660 448H1666V454H1660zM1760 461H1766V468H1760zM1660 481H1666V488H1660zM1666 501H1673V508H1666zM1760 501H1766V508H1760zM1746 521H1753V528H1746zM1693 528H1700V535H1693z"/>
<path fill="#5200ad" d="M1700 414H1713V421H1700zM1673 427H1680V434H1673zM1753 448H1760V454H1753zM1660 454H1666V461H1660zM1660 461H1666V468H1660zM1660 474H1666V481H1660zM1760 495H1766V501H1760zM1733 528H1740V535H1733z"/>
<path fill="#3300cc" d="M1720 414H1726V421H1720zM1740 427H1746V434H1740zM1660 488H1666V495H1660zM1673 515H1680V521H1673zM1753 515H1760V521H1753zM1680 521H1686V528H1680zM1740 528H1746V535H1740zM1713 535H1726V542H1713z"/>
<path fill="#1300ec" d="M1726 414H1733V421H1726zM1673 421H1680V427H1673zM1666 427H1673V434H1666zM1653 461H1660V468H1653zM1653 468H1660V474H1653zM1653 474H1660V481H1653zM1766 474H1773V481H1766zM1766 481H1773V488H1766zM1766 488H1773V495H1766zM1760 508H1766V515H1760zM1673 521H1680V528H1673zM1693 535H1700V542H1693z"/>
<path fill="#72008d" d="M1686 421H1693V427H1686zM1733 427H1740V434H1733zM1666 441H1673V448H1666zM1760 474H1766V481H1760zM1760 481H1766V488H1760zM1740 521H1746V528H1740zM1706 528H1713V535H1706zM1720 528H1733V535H1720z"/>
<path fill="#92006d" d="M1693 421H1700V427H1693zM1666 481H1673V488H1666zM1753 501H1760V508H1753zM1680 508H1686V515H1680zM1686 515H1693V521H1686z"/>
<path fill="#a2005d" d="M1700 421H1720V427H1700zM1666 454H1673V461H1666zM1753 461H1760V468H1753zM1666 474H1673V481H1666zM1700 521H1706V528H1700zM1733 521H1740V528H1733z"/>
<path fill="#82007d" d="M1720 421H1726V427H1720zM1680 427H1686V434H1680zM1673 434H1680V441H1673zM1740 434H1746V441H1740zM1746 441H1753V448H1746zM1666 448H1673V454H1666zM1753 454H1760V461H1753zM1666 488H1673V495H1666zM1673 501H1680V508H1673zM1746 515H1753V521H1746zM1693 521H1700V528H1693zM1713 528H1720V535H1713z"/>
<path fill="#62009d" d="M1726 421H1733V427H1726zM1660 468H1666V474H1660zM1760 468H1766V474H1760zM1760 488H1766V495H1760zM1666 495H1673V501H1666zM1673 508H1680V515H1673zM1753 508H1760V515H1753zM1680 515H1686V521H1680zM1686 521H1693V528H1686zM1700 528H1706V535H1700z"/>
<path fill="#b1004e" d="M1686 427H1693V434H1686zM1726 427H1733V434H1726zM1746 448H1753V454H1746zM1666 461H1673V468H1666zM1666 468H1673V474H1666zM1673 495H1680V501H1673zM1753 495H1760V501H1753zM1746 508H1753V515H1746zM1740 515H1746V521H1740z"/>
<path fill="#e1001e" d="M1693 427H1700V434H1693zM1673 448H1680V454H1673zM1733 515H1740V521H1733z"/>
<path fill="#f1000e" d="M1700 427H1706V434H1700zM1713 427H1720V434H1713zM1746 454H1753V461H1746zM1673 481H1680V488H1673zM1746 501H1753V508H1746zM1740 508H1746V515H1740zM1700 515H1706V521H1700z"/>
<path fill="#ff0100" d="M1706 427H1713V434H1706zM1686 434H1693V441H1686zM1680 441H1686V448H1680zM1673 454H1680V461H1673zM1680 495H1686V501H1680z"/>
<path fill="#d1002e" d="M1720 427H1726V434H1720zM1733 434H1740V441H1733zM1740 441H1746V448H1740zM1753 474H1760V481H1753zM1753 481H1760V488H1753zM1673 488H1680V495H1673zM1680 501H1686V508H1680zM1686 508H1693V515H1686zM1693 515H1700V521H1693zM1713 521H1726V528H1713z"/>
<path fill="#c1003e" d="M1680 434H1686V441H1680zM1673 441H1680V448H1673zM1753 468H1760V474H1753zM1753 488H1760V495H1753zM1706 521H1713V528H1706zM1726 521H1733V528H1726z"/>
<path fill="#ff2400" d="M1693 434H1700V441H1693zM1720 434H1726V441H1720zM1680 448H1686V454H1680zM1746 468H1753V474H1746zM1680 488H1686V495H1680zM1746 488H1753V495H1746zM1740 501H1746V508H1740zM1733 508H1740V515H1733z"/>
<path fill="#ff3b00" d="M1700 434H1706V441H1700zM1713 434H1720V441H1713zM1680 454H1686V461H1680zM1740 454H1746V461H1740zM1680 481H1686V488H1680zM1686 495H1693V501H1686z"/>
<path fill="#ff4700" d="M1706 434H1713V441H1706zM1726 441H1733V448H1726zM1733 448H1740V454H1733zM1680 474H1686V481H1680zM1740 495H1746V501H1740zM1693 501H1700V508H1693zM1706 508H1713V515H1706zM1726 508H1733V515H1726z"/>
<path fill="#ff0d00" d="M1726 434H1733V441H1726zM1740 448H1746V454H1740zM1673 461H1680V468H1673zM1746 461H1753V468H1746zM1673 468H1680V474H1673zM1673 474H1680V481H1673zM1746 495H1753V501H1746zM1686 501H1693V508H1686zM1693 508H1700V515H1693zM1706 515H1713V521H1706zM1726 515H1733V521H1726z"/>
<path fill="#ff3000" d="M1686 441H1693V448H1686zM1746 474H1753V481H1746zM1746 481H1753V488H1746zM1700 508H1706V515H1700z"/>
<path fill="#ff5e00" d="M1693 441H1700V448H1693zM1686 448H1693V454H1686zM1740 461H1746V468H1740zM1686 488H1693V495H1686z"/>
<path fill="#ff7500" d="M1700 441H1706V448H1700zM1686 454H1693V461H1686zM1733 454H1740V461H1733zM1740 468H1746V474H1740zM1740 474H1746V481H1740zM1686 481H1693V488H1686zM1740 481H1746V488H1740zM1693 495H1700V501H1693z"/>
<path fill="#ff8100" d="M1706 441H1720V448H1706zM1726 448H1733V454H1726zM1733 495H1740V501H1733zM1706 501H1713V508H1706zM1726 501H1733V508H1726z"/>
<path fill="#ff6a00" d="M1720 441H1726V448H1720zM1740 488H1746V495H1740zM1700 501H1706V508H1700z"/>
<path fill="#ff1800" d="M1733 441H1740V448H1733zM1713 515H1726V521H1713z"/>
<path fill="#0000f0" d="M1760 441H1766V448H1760zM1766 454H1773V461H1766zM1653 501H1660V508H1653zM1766 508H1773V515H1766zM1660 515H1666V521H1660zM1753 528H1760V535H1753zM1693 542H1700V548H1693zM1733 542H1740V548H1733z"/>
<path fill="#ff8c00" d="M1693 448H1700V454H1693zM1686 461H1693V468H1686zM1686 474H1693V481H1686zM1720 501H1726V508H1720z"/>
<path fill="#ffaf00" d="M1700 448H1706V454H1700zM1693 454H1700V461H1693zM1726 454H1733V461H1726zM1733 468H1740V474H1733zM1726 495H1733V501H1726z"/>
<path fill="#ffbb00" d="M1706 448H1720V454H1706zM1733 474H1740V481H1733zM1693 481H1700V488H1693zM1733 481H1740V488H1733zM1706 495H1713V501H1706z"/>
<path fill="#ffa400" d="M1720 448H1726V454H1720zM1733 488H1740V495H1733z"/>
<path fill="#ffd200" d="M1700 454H1706V461H1700zM1720 454H1726V461H1720zM1726 461H1733V468H1726zM1693 468H1700V474H1693zM1693 474H1700V481H1693zM1726 488H1733V495H1726z"/>
<path fill="#ffe900" d="M1706 454H1720V461H1706zM1726 468H1733V474H1726zM1700 481H1706V488H1700zM1726 481H1733V488H1726zM1706 488H1713V495H1706zM1720 488H1726V495H1720z"/>
<path fill="#ff5200" d="M1680 461H1686V468H1680zM1680 468H1686V474H1680zM1733 501H1740V508H1733zM1713 508H1726V515H1713z"/>
<path fill="#ffc600" d="M1693 461H1700V468H1693zM1700 488H1706V495H1700zM1713 495H1726V501H1713z"/>
<path fill="#fff500" d="M1700 461H1706V468H1700zM1700 474H1706V481H1700zM1726 474H1733V481H1726zM1713 488H1720V495H1713z"/>
<path fill="#ffff1c" d="M1706 461H1720V468H1706zM1720 468H1726V474H1720zM1720 481H1726V488H1720z"/>
<path fill="#ffff03" d="M1720 461H1726V468H1720zM1700 468H1706V474H1700zM1706 481H1713V488H1706z"/>
<path fill="#ff9800" d="M1733 461H1740V468H1733zM1686 468H1693V474H1686zM1693 488H1700V495H1693zM1700 495H1706V501H1700zM1713 501H1720V508H1713z"/>
<path fill="#ffff35" d="M1706 468H1713V474H1706zM1706 474H1713V481H1706zM1720 474H1726V481H1720zM1713 481H1720V488H1713z"/>
<path fill="#ffff4f" d="M1713 468H1720V474H1713zM1713 474H1720V481H1713z"/>
</g>
<rect x="1854.2" y="333.4" width="17.3" height="275.4" fill="url(#cb)"/>
<rect x="1853" y="333.4" width="1.2" height="275.4" fill="#757575"/>
<path d="M1574 333.4V608H1853M1573.2 334.02h4.4M1573.2 347.38h4.4M1573.2 360.74h4.4M1573.2 374.1h9.3M1573.2 387.46h4.4M1573.2 400.82h4.4M1573.2 414.18h4.4M1573.2 427.54h4.4M1573.2 440.9h9.3M1573.2 454.26h4.4M1573.2 467.62h4.4M1573.2 480.98h4.4M1573.2 494.34h4.4M1573.2 507.7h9.3M1573.2 521.06h4.4M1573.2 534.42h4.4M1573.2 547.78h4.4M1573.2 561.14h4.4M1573.2 574.5h9.3M1573.2 587.86h4.4M1573.2 601.22h4.4M1580.36 608.8v-4.6M1593.64 608.8v-4.6M1606.92 608.8v-4.6M1620.2 608.8v-8.6M1633.48 608.8v-4.6M1646.76 608.8v-4.6M1660.04 608.8v-4.6M1673.32 608.8v-4.6M1686.6 608.8v-8.6M1699.88 608.8v-4.6M1713.16 608.8v-4.6M1726.44 608.8v-4.6M1739.72 608.8v-4.6M1753 608.8v-8.6M1766.28 608.8v-4.6M1779.56 608.8v-4.6M1792.84 608.8v-4.6M1806.12 608.8v-4.6M1819.4 608.8v-8.6M1832.68 608.8v-4.6M1845.96 608.8v-4.6" fill="none" stroke="#000" stroke-width="1.6"/>
<path d="M1862 334.3H1870.6V608.8M1871.5 391h-9.5M1871.5 447.9h-9.5M1871.5 504.8h-9.5M1871.5 561.7h-9.5" fill="none" stroke="#000" stroke-width="1.8"/>
<ellipse cx="1797" cy="551.3" rx="41.5" ry="40.2" fill="none" stroke="#0f0" stroke-width="6"/>
<text x="1534.44" y="381.4" font-size="19" textLength="35.95" lengthAdjust="spacingAndGlyphs">−12</text>
<text x="1534.45" y="448.2" font-size="19" textLength="35.72" lengthAdjust="spacingAndGlyphs">−13</text>
<text x="1534.45" y="515" font-size="19" textLength="35.5" lengthAdjust="spacingAndGlyphs">−14</text>
<text x="1534.45" y="581.8" font-size="19" textLength="35.72" lengthAdjust="spacingAndGlyphs">−15</text>
<text x="1603.83" y="631" font-size="19" textLength="35.59" lengthAdjust="spacingAndGlyphs">275</text>
<text x="1670.73" y="631" font-size="19" textLength="35.81" lengthAdjust="spacingAndGlyphs">276</text>
<text x="1737.34" y="631" font-size="19" textLength="35.5" lengthAdjust="spacingAndGlyphs">277</text>
<text x="1803.93" y="631" font-size="19" textLength="35.59" lengthAdjust="spacingAndGlyphs">278</text>
<text x="1876.24" y="340.3" font-size="19.8" textLength="23.66" lengthAdjust="spacingAndGlyphs">20</text>
<text x="1875.66" y="397.1" font-size="19.8" textLength="24.37" lengthAdjust="spacingAndGlyphs">15</text>
<text x="1875.66" y="454" font-size="19.8" textLength="24.25" lengthAdjust="spacingAndGlyphs">10</text>
<text x="1876.41" y="510.9" font-size="19.8" textLength="12.41" lengthAdjust="spacingAndGlyphs">5</text>
<text x="1876.42" y="567.8" font-size="19.8" textLength="12.28" lengthAdjust="spacingAndGlyphs">0</text>
<text transform="translate(1529.7 540.1) rotate(-90)" x="-1.96" y="0" font-size="24.3" textLength="153.85" lengthAdjust="spacingAndGlyphs">Declination (°)</text>
<text x="1621.42" y="654.5" font-size="23" textLength="209.78" lengthAdjust="spacingAndGlyphs">Right ascension (°)</text>
</svg>
</body></html>
